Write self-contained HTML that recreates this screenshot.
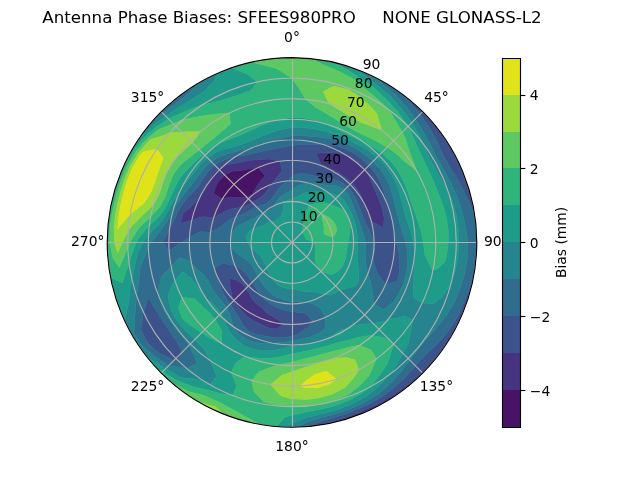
<!DOCTYPE html>
<html lang="en"><head><meta charset="utf-8"><title>Antenna Phase Biases</title>
<style>html,body{margin:0;padding:0;background:#fff;overflow:hidden}svg{display:block}text{font-family:"DejaVu Sans","Liberation Sans",sans-serif;white-space:pre}</style></head>
<body>
<svg width="640" height="480" viewBox="0 0 460.8 345.6" version="1.1">
 
 <defs>
  <style type="text/css">*{stroke-linejoin: round; stroke-linecap: butt}</style>
 </defs>
 <g id="figure_1">
  <g id="patch_1">
   <path d="M 0 345.6 
L 460.8 345.6 
L 460.8 0 
L 0 0 
z
" style="fill: #ffffff"/>
  </g>
  <g id="axes_1">
   <g id="patch_2">
    <path d="M 343.296 174.528 
C 343.296 157.055246 339.854248 139.752393 333.167715 123.609673 
C 326.481182 107.466954 316.679903 92.798303 304.3248 80.4432 
C 291.969697 68.088097 277.301046 58.286818 261.158327 51.600285 
C 245.015607 44.913752 227.712754 41.472 210.24 41.472 
C 192.767246 41.472 175.464393 44.913752 159.321673 51.600285 
C 143.178954 58.286818 128.510303 68.088097 116.1552 80.4432 
C 103.800097 92.798303 93.998818 107.466954 87.312285 123.609673 
C 80.625752 139.752393 77.184 157.055246 77.184 174.528 
C 77.184 192.000754 80.625752 209.303607 87.312285 225.446327 
C 93.998818 241.589046 103.800097 256.257697 116.1552 268.6128 
C 128.510303 280.967903 143.178954 290.769182 159.321673 297.455715 
C 175.464393 304.142248 192.767246 307.584 210.24 307.584 
C 227.712754 307.584 245.015607 304.142248 261.158327 297.455715 
C 277.301046 290.769182 291.969697 280.967903 304.3248 268.6128 
C 316.679903 256.257697 326.481182 241.589046 333.167715 225.446327 
C 339.854248 209.303607 343.296 192.000754 343.296 174.528 
M 210.24 174.528 
C 210.24 174.528 210.24 174.528 210.24 174.528 
C 210.24 174.528 210.24 174.528 210.24 174.528 
C 210.24 174.528 210.24 174.528 210.24 174.528 
C 210.24 174.528 210.24 174.528 210.24 174.528 
C 210.24 174.528 210.24 174.528 210.24 174.528 
C 210.24 174.528 210.24 174.528 210.24 174.528 
C 210.24 174.528 210.24 174.528 210.24 174.528 
C 210.24 174.528 210.24 174.528 210.24 174.528 
C 210.24 174.528 210.24 174.528 210.24 174.528 
C 210.24 174.528 210.24 174.528 210.24 174.528 
C 210.24 174.528 210.24 174.528 210.24 174.528 
C 210.24 174.528 210.24 174.528 210.24 174.528 
C 210.24 174.528 210.24 174.528 210.24 174.528 
C 210.24 174.528 210.24 174.528 210.24 174.528 
C 210.24 174.528 210.24 174.528 210.24 174.528 
C 210.24 174.528 210.24 174.528 210.24 174.528 
z
" style="fill: #ffffff"/>
   </g>
   <g id="QuadContourSet_1">
    <path d="M 171.932487 142.38418 
L 177.833013 142.121013 
L 181.492625 140.268213 
L 183.6724 136.585535 
L 185.952 132.45995 
L 188.887504 128.737424 
L 190.883972 126.540651 
L 185.934578 120.617769 
L 185.129751 120.678897 
L 179.664 121.568815 
L 173.941781 122.688771 
L 167.963137 123.16029 
L 167.295258 123.34845 
L 161.62952 125.91752 
L 157.467202 130.246365 
L 154.841503 135.737555 
L 153.81876 139.277206 
L 160.038823 143.272468 
L 164.136671 142.246102 
L 169.626733 142.465497 
z
" clip-path="url(#pded382b021)" style="fill: #471365; stroke: #471365; stroke-width: 0.5"/>
    <path d="M 174.15914 149.26391 
L 178.194602 147.638719 
L 181.491867 145.779867 
L 184.56948 143.935065 
L 187.566732 142.147217 
L 190.2816 139.959037 
L 192.600452 136.699868 
L 195.132578 133.020699 
L 195.333916 132.755897 
L 198.123128 129.307217 
L 201.536564 125.168364 
L 203.106818 123.278032 
L 201.702262 116.011562 
L 199.828625 115.482159 
L 194.169201 114.550961 
L 188.418022 114.572609 
L 182.542256 115.129995 
L 179.794356 115.375337 
L 176.514 116.112854 
L 170.161984 117.290662 
L 163.215547 118.486439 
L 161.326487 119.10567 
L 157.186627 121.474627 
L 152.645359 126.200358 
L 149.205633 131.791276 
L 146.223402 137.568 
L 142.739425 143.051965 
L 138.338751 148.358086 
L 131.698639 153.482906 
L 131.698639 153.482906 
L 130.058069 160.389762 
L 130.092086 160.818394 
L 130.888279 160.536151 
L 138.036897 158.68886 
L 143.598845 156.671556 
L 146.350185 155.978976 
L 153.769356 156.974285 
L 156.844638 155.093678 
L 162.161802 152.108768 
L 163.931712 151.441553 
L 167.829004 150.042 
L 173.692014 149.401428 
z
M 169.626733 142.465497 
L 164.136671 142.246102 
L 160.038823 143.272468 
L 153.81876 139.277206 
L 154.841503 135.737555 
L 157.467202 130.246365 
L 161.62952 125.91752 
L 167.295258 123.34845 
L 167.963137 123.16029 
L 173.941781 122.688771 
L 179.664 121.568815 
L 185.129751 120.678897 
L 185.934578 120.617769 
L 190.883972 126.540651 
L 188.887504 128.737424 
L 185.952 132.45995 
L 183.6724 136.585535 
L 181.492625 140.268213 
L 177.833013 142.121013 
L 171.932487 142.38418 
z
M 188.372041 221.42399 
L 184.704 218.757649 
L 181.755589 215.207954 
L 179.400524 211.281056 
L 177.136089 207.631911 
L 174.533327 204.489456 
L 171.009695 201.997355 
L 165.428382 200.4 
L 165.428382 200.4 
L 165.428382 200.4 
L 165.622999 205.76916 
L 166.612816 211.135554 
L 167.321494 215.210531 
L 168.175632 216.592368 
L 171.414549 220.798371 
L 175.017856 224.830435 
L 178.992 228.651124 
L 183.686049 231.473131 
L 188.609734 233.956667 
L 193.738733 236.111567 
L 199.231482 236.960407 
L 204.692806 233.403251 
L 200.375911 230.470026 
L 195.99736 227.682254 
L 191.820163 225.136086 
L 188.372041 221.42399 
z
M 261.453278 144.96 
L 263.44806 149.716674 
L 265.294892 154.489658 
L 267.36099 159.222477 
L 267.36099 159.222477 
L 274.385439 163.217428 
L 275.962279 164.205361 
L 276.269338 162.885246 
L 276.541149 156.762661 
L 275.388048 150.81605 
L 273.440393 145.057173 
L 271.055768 139.416 
L 268.549622 133.699163 
L 266.071413 127.679882 
L 264.700012 124.545268 
L 262.799718 121.968282 
L 258.259404 117.300703 
L 253.022437 113.428347 
L 247.2 110.511402 
L 247.2 110.511402 
L 240.341545 109.975028 
L 233.730427 109.988581 
L 227.458713 110.266887 
L 227.458713 110.266887 
L 227.458713 110.266887 
L 230.848735 117.905966 
L 235.523585 120.307178 
L 240.218667 122.603426 
L 244.793097 125.181063 
L 249.168901 128.134343 
L 253.217007 131.550993 
L 256.721614 135.525295 
L 259.519752 140.021946 
L 261.453278 144.96 
z
M 113.3662 242.359765 
L 113.34531 242.348978 
L 113.350571 242.370709 
L 113.584523 242.689461 
z
M 304.3248 268.6128 
L 295.13885 275.706509 
L 285.786713 282.419887 
L 276.0288 288.477544 
L 265.825655 293.731822 
L 255.250955 298.194582 
L 244.378491 301.934582 
L 233.295569 305.28263 
L 232.078853 305.779528 
L 233.344932 305.56258 
L 244.677427 303.050227 
L 255.747832 299.559741 
L 266.471895 295.117689 
L 276.768 289.757876 
L 286.557786 283.521094 
L 295.766748 276.454809 
L 304.3248 268.6128 
L 304.3248 268.6128 
z
" clip-path="url(#pded382b021)" style="fill: #463480; stroke: #463480; stroke-width: 0.5"/>
    <path d="M 184.580509 148.868509 
L 187.86022 147.856817 
L 190.844539 146.828411 
L 193.344 145.26327 
L 195.48979 142.896072 
L 197.712863 140.109974 
L 198.160603 139.597644 
L 200.100091 136.685344 
L 203.017081 133.564791 
L 206.383145 130.443945 
L 206.517249 130.332514 
L 210.24 127.008 
L 210.24 122.784 
L 210.24 115.392 
L 210.24 108 
L 210.24 104.714667 
L 204.232516 105.862149 
L 198.341267 107.046933 
L 192.474661 108.226851 
L 186.564723 109.480712 
L 180.53646 110.828553 
L 174.204 112.111817 
L 169.793472 112.655189 
L 167.355294 113.282293 
L 160.671632 115.454719 
L 154.57316 118.86116 
L 149.690067 123.720573 
L 145.765908 129.382755 
L 141.955629 135.104 
L 136.749015 140.258591 
L 136.378971 140.52521 
L 131.976126 146.042279 
L 128.128577 152.526311 
L 124.790839 159.461007 
L 122.100945 164.532668 
L 121.030768 166.723203 
L 117.1008 174.528 
L 121.756999 180.78564 
L 128.934289 175.539294 
L 130.776 174.528 
L 136.406079 170.961695 
L 140.903004 168.461799 
L 144.157685 166.84019 
L 151.559071 167.205771 
L 155.975915 164.959778 
L 159.924337 162.454243 
L 161.15165 161.374816 
L 165.390108 158.203974 
L 170.015444 155.844184 
L 170.098258 155.809598 
L 175.030871 154.2 
L 178.747142 152.476463 
L 181.620477 150.513369 
L 182.929772 149.624325 
z
M 173.692014 149.401428 
L 167.829004 150.042 
L 163.931712 151.441553 
L 162.161802 152.108768 
L 156.844638 155.093678 
L 153.769356 156.974285 
L 146.350185 155.978976 
L 143.598845 156.671556 
L 138.036897 158.68886 
L 130.888279 160.536151 
L 130.092086 160.818394 
L 130.058069 160.389762 
L 131.698639 153.482906 
L 131.698639 153.482906 
L 138.338751 148.358086 
L 142.739425 143.051965 
L 146.223402 137.568 
L 149.205633 131.791276 
L 152.645359 126.200358 
L 157.186627 121.474627 
L 161.326487 119.10567 
L 163.215547 118.486439 
L 170.161984 117.290662 
L 176.514 116.112854 
L 179.794356 115.375337 
L 182.542256 115.129995 
L 188.418022 114.572609 
L 194.169201 114.550961 
L 199.828625 115.482159 
L 201.702262 116.011562 
L 203.106818 123.278032 
L 201.536564 125.168364 
L 198.123128 129.307217 
L 195.333916 132.755897 
L 195.132578 133.020699 
L 192.600452 136.699868 
L 190.2816 139.959037 
L 187.566732 142.147217 
L 184.56948 143.935065 
L 181.491867 145.779867 
L 178.194602 147.638719 
L 174.15914 149.26391 
z
M 188.064 212.937959 
L 185.712323 209.557153 
L 183.559237 206.324895 
L 181.491867 203.276133 
L 179.484522 200.334911 
L 177.43408 197.498953 
L 175.030871 194.856 
L 171.582679 192.554205 
L 169.258887 191.488198 
L 165.446211 190.831606 
L 160.645069 189.285519 
L 154.055806 192.978011 
L 154.233763 194.912603 
L 155.93906 199.848944 
L 157.959778 204.712 
L 160.02297 209.690343 
L 162.621783 214.484428 
L 165.686616 219.081384 
L 168.91987 223.771414 
L 172.131341 228.952806 
L 172.279641 229.163025 
L 175.333333 234.98812 
L 180.171556 239.009986 
L 185.969156 241.211595 
L 192.064691 242.359175 
L 198.139714 243.152134 
L 204.237849 243.132902 
L 210.24 242.112 
L 214.255023 240.934734 
L 215.923021 239.485226 
L 221.114835 236.202253 
L 225.545523 231.64899 
L 225.545523 231.64899 
L 225.545523 231.64899 
L 219.774164 225.38605 
L 219.18315 225.247126 
L 214.635417 224.767843 
L 210.24 224.256 
L 205.957624 223.475782 
L 201.830381 222.221317 
L 197.891226 220.614253 
L 194.227985 218.52065 
L 190.975369 215.841134 
L 188.064 212.937959 
z
M 188.372041 221.42399 
L 191.820163 225.136086 
L 195.99736 227.682254 
L 200.375911 230.470026 
L 204.692806 233.403251 
L 199.231482 236.960407 
L 193.738733 236.111567 
L 188.609734 233.956667 
L 183.686049 231.473131 
L 178.992 228.651124 
L 175.017856 224.830435 
L 171.414549 220.798371 
L 168.175632 216.592368 
L 167.321494 215.210531 
L 166.612816 211.135554 
L 165.622999 205.76916 
L 165.428382 200.4 
L 165.428382 200.4 
L 165.428382 200.4 
L 171.009695 201.997355 
L 174.533327 204.489456 
L 177.136089 207.631911 
L 179.400524 211.281056 
L 181.755589 215.207954 
L 184.704 218.757649 
L 188.372041 221.42399 
z
M 214.562803 125.118131 
L 218.977973 124.97249 
L 223.313468 125.737155 
L 227.595556 126.844001 
L 231.936781 127.999102 
L 233.319158 128.216079 
L 236.784 128.552443 
L 241.816168 129.432558 
L 246.336074 131.510375 
L 250.237403 134.530597 
L 253.455241 138.266107 
L 255.98332 142.498182 
L 257.896801 147.013333 
L 259.571417 151.524383 
L 261.297441 155.944611 
L 263.160917 160.347883 
L 265.283948 164.822267 
L 267.597919 169.509832 
L 269.376 174.528 
L 269.376 174.528 
L 269.83126 179.74156 
L 268.956066 184.881227 
L 269.401025 190.380149 
L 271.979022 196.999166 
L 272.460101 198.078664 
L 277.565868 205.046747 
L 285.949626 202.08405 
L 287.761343 195.299781 
L 287.925058 188.225972 
L 286.978949 181.241788 
L 285.504 174.528 
L 284.192166 168.058024 
L 283.182298 162.545197 
L 282.979876 161.701997 
L 281.641237 155.396096 
L 281.641237 155.396096 
L 280.022625 149.129201 
L 278.178166 142.847913 
L 276.085644 136.512 
L 273.458338 130.262043 
L 269.999211 124.384068 
L 265.70357 119.06443 
L 260.701034 114.390882 
L 255.118758 110.434491 
L 249.048 107.310572 
L 242.575369 105.184578 
L 235.892931 104.047152 
L 231.168079 103.63243 
L 229.197977 103.775865 
L 222.710549 103.804001 
L 216.40982 104.006629 
L 210.24 104.714667 
L 210.24 108 
L 210.24 115.392 
L 210.24 122.784 
L 210.24 127.008 
z
M 261.453278 144.96 
L 259.519752 140.021946 
L 256.721614 135.525295 
L 253.217007 131.550993 
L 249.168901 128.134343 
L 244.793097 125.181063 
L 240.218667 122.603426 
L 235.523585 120.307178 
L 230.848735 117.905966 
L 227.458713 110.266887 
L 227.458713 110.266887 
L 227.458713 110.266887 
L 233.730427 109.988581 
L 240.341545 109.975028 
L 247.2 110.511402 
L 247.2 110.511402 
L 253.022437 113.428347 
L 258.259404 117.300703 
L 262.799718 121.968282 
L 264.700012 124.545268 
L 266.071413 127.679882 
L 268.549622 133.699163 
L 271.055768 139.416 
L 273.440393 145.057173 
L 275.388048 150.81605 
L 276.541149 156.762661 
L 276.269338 162.885246 
L 275.962279 164.205361 
L 274.385439 163.217428 
L 267.36099 159.222477 
L 267.36099 159.222477 
L 265.294892 154.489658 
L 263.44806 149.716674 
L 261.453278 144.96 
z
M 126.530243 244.768826 
L 121.102412 236.942811 
L 115.815518 229.044 
L 110.86964 220.86516 
L 106.544859 213.792389 
L 103.685198 224.21532 
L 103.212199 224.860054 
L 101.411784 237.36 
L 101.411784 237.36 
L 106.388092 247.245889 
L 110.993731 251.609898 
L 114.953478 254.482885 
L 125.402851 259.365149 
L 128.327559 259.842817 
L 130.529267 254.238733 
L 130.195504 251.256437 
z
M 113.584523 242.689461 
L 113.350571 242.370709 
L 113.34531 242.348978 
L 113.3662 242.359765 
z
M 319.068216 111.696 
L 319.068216 111.696 
L 324.521663 121.237585 
L 330.330533 130.818621 
L 335.588838 140.94088 
L 340.278658 151.598676 
L 342.056436 156.408222 
L 341.27458 151.423068 
L 338.762227 140.090573 
L 335.271741 129.020168 
L 330.829689 118.296105 
L 325.469876 108 
L 319.233094 98.210214 
L 312.166809 89.001252 
L 304.3248 80.4432 
L 295.766748 72.601191 
L 287.383257 66.11759 
L 295.010122 73.502903 
L 302.582489 82.185511 
L 309.088825 91.583988 
L 314.392353 101.599737 
L 319.068216 111.696 
z
M 299.097867 263.385867 
L 299.097867 263.385867 
L 291.756207 271.675232 
L 283.615338 279.318843 
L 274.5504 285.91688 
L 264.756323 291.438633 
L 254.452327 296.000369 
L 243.780619 299.703294 
L 232.862807 302.828314 
L 221.813482 306.813508 
L 221.229981 307.129355 
L 221.836595 307.077682 
L 232.078853 305.779528 
L 233.295569 305.28263 
L 244.378491 301.934582 
L 255.250955 298.194582 
L 265.825655 293.731822 
L 276.0288 288.477544 
L 285.786713 282.419887 
L 295.13885 275.706509 
L 304.3248 268.6128 
L 304.3248 268.6128 
L 312.166809 260.054748 
L 319.233094 250.845786 
L 325.469876 241.056 
L 330.829689 230.759895 
L 335.271741 220.035832 
L 338.762227 208.965427 
L 341.099989 198.602104 
L 337.572206 208.646562 
L 333.350459 219.336543 
L 328.367405 229.611714 
L 322.269046 239.208 
L 314.839721 247.769513 
L 306.726562 255.489838 
L 299.097867 263.385867 
z
" clip-path="url(#pded382b021)" style="fill: #3b528b; stroke: #3b528b; stroke-width: 0.5"/>
    <path d="M 189.332267 153.620267 
L 191.99588 152.785504 
L 194.312221 151.780775 
L 196.1952 150.201693 
L 197.180783 148.000213 
L 197.608682 147.440051 
L 199.38827 144.713117 
L 201.56687 142.159439 
L 204.180678 140.163876 
L 207.093066 138.558383 
L 208.975594 137.589634 
L 210.24 136.644 
L 210.24 130.176 
L 210.24 127.008 
L 206.517249 130.332514 
L 206.383145 130.443945 
L 203.017081 133.564791 
L 200.100091 136.685344 
L 198.160603 139.597644 
L 197.712863 140.109974 
L 195.48979 142.896072 
L 193.344 145.26327 
L 190.844539 146.828411 
L 187.86022 147.856817 
L 184.580509 148.868509 
L 182.929772 149.624325 
L 181.620477 150.513369 
L 178.747142 152.476463 
L 175.030871 154.2 
L 170.098258 155.809598 
L 170.015444 155.844184 
L 165.390108 158.203974 
L 161.15165 161.374816 
L 159.924337 162.454243 
L 155.975915 164.959778 
L 151.559071 167.205771 
L 144.157685 166.84019 
L 140.903004 168.461799 
L 136.406079 170.961695 
L 130.776 174.528 
L 128.934289 175.539294 
L 121.756999 180.78564 
L 117.1008 174.528 
L 121.030768 166.723203 
L 122.100945 164.532668 
L 124.790839 159.461007 
L 128.128577 152.526311 
L 131.976126 146.042279 
L 136.378971 140.52521 
L 136.749015 140.258591 
L 141.955629 135.104 
L 145.765908 129.382755 
L 149.690067 123.720573 
L 154.57316 118.86116 
L 160.671632 115.454719 
L 167.355294 113.282293 
L 169.793472 112.655189 
L 174.204 112.111817 
L 180.53646 110.828553 
L 186.564723 109.480712 
L 192.474661 108.226851 
L 198.341267 107.046933 
L 204.232516 105.862149 
L 210.24 104.714667 
L 210.24 100.608 
L 210.24 97.764923 
L 203.630062 98.976066 
L 197.266615 100.952275 
L 191.108096 103.126763 
L 184.953286 105.053325 
L 178.653483 106.790495 
L 172.112842 108.489825 
L 165.245777 110.26959 
L 158.337553 112.673072 
L 156.138349 113.826659 
L 151.959693 116.247693 
L 146.777323 121.276492 
L 142.38858 127.017925 
L 138.043504 132.845333 
L 133.253146 138.62844 
L 128.717487 144.856232 
L 124.558516 151.569715 
L 124.558516 151.569715 
L 120.685222 158.737076 
L 115.441211 166.234181 
L 114.394505 167.593857 
L 108.768 174.528 
L 106.830961 178.569891 
L 104.574985 183.772491 
L 100.904383 192.969723 
L 100.758073 193.832618 
L 99.842703 204.108867 
L 98.382318 212.948372 
L 98.100623 215.343395 
L 97.126592 227.273649 
L 96.881678 228.762046 
L 96.48743 240.203077 
L 102.975626 249.635323 
L 111.917885 257.03005 
L 121.382133 263.385867 
L 121.382133 263.385867 
L 134.14202 265.218042 
L 134.353357 265.2445 
L 141.846097 261.801412 
L 140.476557 257.668834 
L 136.112582 248.655418 
L 130.462208 241.469516 
L 124.825868 234.335619 
L 119.816556 226.734 
L 115.935614 218.502857 
L 114.844729 214.646679 
L 114.090613 209.523515 
L 115.990367 199.782113 
L 117.089905 198.13946 
L 123.255729 191.910067 
L 125.715787 189.431899 
L 129.666886 185.464847 
L 135.602591 187.688589 
L 137.880983 189.638892 
L 140.878798 193.113278 
L 146.432275 197.752113 
L 149.376261 201.390242 
L 150.205649 202.522478 
L 152.625062 207.792 
L 152.625062 207.792 
L 152.625062 207.792 
L 155.954514 212.539107 
L 159.626321 216.997919 
L 163.1976 221.5704 
L 163.1976 221.5704 
L 165.782099 227.510863 
L 168.038689 234.797718 
L 168.305279 235.402014 
L 172.125 240.545117 
L 177.633311 244.453271 
L 183.946586 246.768562 
L 190.698127 247.459264 
L 195.902161 247.044155 
L 197.466597 246.969567 
L 203.944287 246.488325 
L 210.24 245.632 
L 216.356444 244.439273 
L 222.292223 242.879554 
L 228.005339 240.829149 
L 233.139969 237.445149 
L 233.917722 236.699861 
L 234.366267 228.518645 
L 230.692027 222.058581 
L 226.539655 219.310934 
L 221.719142 217.368742 
L 221.719142 217.368742 
L 217.73204 217.01747 
L 213.970677 217.169837 
L 210.24 217.237333 
L 206.579469 216.368058 
L 203.048124 215.315156 
L 199.63049 214.123231 
L 196.449748 212.416406 
L 193.768031 209.852252 
L 191.424 207.118268 
L 189.792011 205.316331 
L 189.210968 204.560571 
L 187.259738 201.914809 
L 185.673413 199.094587 
L 184.305627 196.289523 
L 182.952642 193.634814 
L 181.432531 191.16 
L 179.540662 188.843336 
L 176.970293 186.637183 
L 174.859997 185.218978 
L 173.349361 184.412817 
L 169.730723 181.670879 
L 167.130288 178.299611 
L 165.888 174.528 
L 166.100421 170.666287 
L 167.549919 167.000587 
L 170.076804 163.766304 
L 173.751656 161.247329 
L 176.164104 160.214549 
L 177.938277 159.465459 
L 181.432531 157.896 
L 184.237795 156.32106 
L 186.784727 154.846689 
L 189.332267 153.620267 
z
M 188.064 212.937959 
L 190.975369 215.841134 
L 194.227985 218.52065 
L 197.891226 220.614253 
L 201.830381 222.221317 
L 205.957624 223.475782 
L 210.24 224.256 
L 214.635417 224.767843 
L 219.18315 225.247126 
L 219.774164 225.38605 
L 225.545523 231.64899 
L 225.545523 231.64899 
L 225.545523 231.64899 
L 221.114835 236.202253 
L 215.923021 239.485226 
L 214.255023 240.934734 
L 210.24 242.112 
L 204.237849 243.132902 
L 198.139714 243.152134 
L 192.064691 242.359175 
L 185.969156 241.211595 
L 180.171556 239.009986 
L 175.333333 234.98812 
L 172.279641 229.163025 
L 172.131341 228.952806 
L 168.91987 223.771414 
L 165.686616 219.081384 
L 162.621783 214.484428 
L 160.02297 209.690343 
L 157.959778 204.712 
L 155.93906 199.848944 
L 154.233763 194.912603 
L 154.055806 192.978011 
L 160.645069 189.285519 
L 165.446211 190.831606 
L 169.258887 191.488198 
L 171.582679 192.554205 
L 175.030871 194.856 
L 177.43408 197.498953 
L 179.484522 200.334911 
L 181.491867 203.276133 
L 183.559237 206.324895 
L 185.712323 209.557153 
L 188.064 212.937959 
z
M 130.195504 251.256437 
L 130.529267 254.238733 
L 128.327559 259.842817 
L 125.402851 259.365149 
L 114.953478 254.482885 
L 110.993731 251.609898 
L 106.388092 247.245889 
L 101.411784 237.36 
L 101.411784 237.36 
L 103.212199 224.860054 
L 103.685198 224.21532 
L 106.544859 213.792389 
L 110.86964 220.86516 
L 115.815518 229.044 
L 121.102412 236.942811 
L 126.530243 244.768826 
z
M 213.767606 134.207276 
L 217.643891 132.538447 
L 221.719142 131.687258 
L 221.719142 131.687258 
L 225.813849 131.739202 
L 229.918605 132.327095 
L 234.1408 133.1306 
L 238.858626 133.656366 
L 242.125029 133.775252 
L 243.973987 134.3254 
L 247.964823 136.803177 
L 250.95044 140.367885 
L 252.995448 144.590313 
L 253.591644 146.277752 
L 254.469649 148.992 
L 256.106743 153.139986 
L 257.731174 157.242626 
L 259.247213 161.396557 
L 260.654536 165.638557 
L 261.688729 169.008051 
L 262.015318 169.998247 
L 263.216 174.528 
L 263.601193 179.196499 
L 263.416635 183.904475 
L 263.280919 188.740271 
L 263.936296 194.071853 
L 264.77654 197.393527 
L 266.154819 200.601508 
L 267.854938 207.792 
L 267.854938 207.792 
L 268.953719 215.639789 
L 269.499163 218.715306 
L 275.616322 222.876505 
L 277.830993 221.855723 
L 283.61287 216.889846 
L 287.692409 210.644651 
L 290.614743 203.782014 
L 292.561426 196.58596 
L 293.540835 189.216185 
L 293.430634 181.806237 
L 292.120615 174.528 
L 291.524455 172.411692 
L 289.899832 167.558668 
L 287.88643 160.836839 
L 286.103814 154.200352 
L 284.461242 147.513677 
L 282.763984 140.709511 
L 280.658258 133.872 
L 280.658258 133.872 
L 277.541562 127.402939 
L 273.47584 121.46683 
L 268.607422 116.160578 
L 263.11439 111.514756 
L 257.180899 107.489448 
L 250.896 104.109742 
L 250.896 104.109742 
L 244.249673 101.594021 
L 237.402157 99.900587 
L 230.519818 98.842689 
L 223.725989 98.045155 
L 216.973288 97.566167 
L 210.24 97.764923 
L 210.24 100.608 
L 210.24 104.714667 
L 216.40982 104.006629 
L 222.710549 103.804001 
L 229.197977 103.775865 
L 231.168079 103.63243 
L 235.892931 104.047152 
L 242.575369 105.184578 
L 249.048 107.310572 
L 255.118758 110.434491 
L 260.701034 114.390882 
L 265.70357 119.06443 
L 269.999211 124.384068 
L 273.458338 130.262043 
L 276.085644 136.512 
L 278.178166 142.847913 
L 280.022625 149.129201 
L 281.641237 155.396096 
L 281.641237 155.396096 
L 282.979876 161.701997 
L 283.182298 162.545197 
L 284.192166 168.058024 
L 285.504 174.528 
L 286.978949 181.241788 
L 287.925058 188.225972 
L 287.761343 195.299781 
L 285.949626 202.08405 
L 277.565868 205.046747 
L 272.460101 198.078664 
L 271.979022 196.999166 
L 269.401025 190.380149 
L 268.956066 184.881227 
L 269.83126 179.74156 
L 269.376 174.528 
L 269.376 174.528 
L 267.597919 169.509832 
L 265.283948 164.822267 
L 263.160917 160.347883 
L 261.297441 155.944611 
L 259.571417 151.524383 
L 257.896801 147.013333 
L 255.98332 142.498182 
L 253.455241 138.266107 
L 250.237403 134.530597 
L 246.336074 131.510375 
L 241.816168 129.432558 
L 236.784 128.552443 
L 233.319158 128.216079 
L 231.936781 127.999102 
L 227.595556 126.844001 
L 223.313468 125.737155 
L 218.977973 124.97249 
L 214.562803 125.118131 
L 210.24 127.008 
L 210.24 130.176 
L 210.24 136.644 
z
M 299.097867 85.670133 
L 305.028942 94.990634 
L 310.082231 104.617717 
L 314.800443 114.16 
L 319.96576 123.362038 
L 325.11651 132.71637 
L 329.522067 142.566467 
L 332.880337 152.9032 
L 335.248406 163.591182 
L 335.635533 166.318174 
L 336.828 174.528 
L 336.52903 185.576858 
L 334.628697 196.461083 
L 331.622103 207.052236 
L 331.622103 207.052236 
L 327.375609 217.161875 
L 321.782752 226.541239 
L 315.067179 235.05 
L 308.116379 243.061778 
L 301.517661 251.119052 
L 295.077149 259.365149 
L 288.484561 267.776237 
L 281.264167 275.961023 
L 273.072 283.356216 
L 273.072 283.356216 
L 263.686992 289.145444 
L 253.653699 293.806157 
L 243.182747 297.472005 
L 232.430045 300.373997 
L 221.535024 303.630714 
L 213.907041 307.533458 
L 221.229981 307.129355 
L 221.813482 306.813508 
L 232.862807 302.828314 
L 243.780619 299.703294 
L 254.452327 296.000369 
L 264.756323 291.438633 
L 274.5504 285.91688 
L 283.615338 279.318843 
L 291.756207 271.675232 
L 299.097867 263.385867 
L 299.097867 263.385867 
L 299.097867 263.385867 
L 306.726562 255.489838 
L 314.839721 247.769513 
L 322.269046 239.208 
L 328.367405 229.611714 
L 333.350459 219.336543 
L 337.572206 208.646562 
L 341.099989 198.602104 
L 341.27458 197.632932 
L 342.789682 186.124595 
L 343.296 174.528 
L 342.789682 162.931405 
L 342.056436 156.408222 
L 340.278658 151.598676 
L 335.588838 140.94088 
L 330.330533 130.818621 
L 324.521663 121.237585 
L 319.068216 111.696 
L 319.068216 111.696 
L 319.068216 111.696 
L 314.392353 101.599737 
L 309.088825 91.583988 
L 302.582489 82.185511 
L 295.010122 73.502903 
L 287.383257 66.11759 
L 286.557786 65.534906 
L 276.768 59.298124 
L 268.778169 55.040838 
L 275.964522 60.689789 
L 284.617569 68.305823 
L 292.43047 76.577213 
L 299.097867 85.670133 
z
M 117.200587 81.488587 
L 126.40543 74.617851 
L 135.413099 67.66411 
L 143.712 59.298124 
L 143.712 59.298124 
L 143.712 59.298124 
L 133.922214 65.534906 
L 124.713252 72.601191 
L 116.1552 80.4432 
L 109.618035 87.469862 
z
" clip-path="url(#pded382b021)" style="fill: #2f6c8e; stroke: #2f6c8e; stroke-width: 0.5"/>
    <path d="M 193.425576 160.419023 
L 195.604587 159.892587 
L 197.415407 159.244245 
L 198.976596 158.442192 
L 200.384 157.456907 
L 201.687127 156.186304 
L 202.900955 154.36414 
L 203.250741 153.482211 
L 203.862699 150.727588 
L 204.676043 145.488217 
L 205.069358 145.203831 
L 207.572572 144.039159 
L 210.24 143.112 
L 210.24 137.568 
L 210.24 136.644 
L 208.975594 137.589634 
L 207.093066 138.558383 
L 204.180678 140.163876 
L 201.56687 142.159439 
L 199.38827 144.713117 
L 197.608682 147.440051 
L 197.180783 148.000213 
L 196.1952 150.201693 
L 194.312221 151.780775 
L 191.99588 152.785504 
L 189.332267 153.620267 
L 189.332267 153.620267 
L 186.784727 154.846689 
L 184.237795 156.32106 
L 181.432531 157.896 
L 177.938277 159.465459 
L 176.164104 160.214549 
L 173.751656 161.247329 
L 170.076804 163.766304 
L 167.549919 167.000587 
L 166.100421 170.666287 
L 165.888 174.528 
L 167.130288 178.299611 
L 169.730723 181.670879 
L 173.349361 184.412817 
L 174.859997 185.218978 
L 176.970293 186.637183 
L 179.540662 188.843336 
L 181.432531 191.16 
L 182.952642 193.634814 
L 184.305627 196.289523 
L 185.673413 199.094587 
L 187.259738 201.914809 
L 189.210968 204.560571 
L 189.792011 205.316331 
L 191.424 207.118268 
L 193.768031 209.852252 
L 196.449748 212.416406 
L 199.63049 214.123231 
L 203.048124 215.315156 
L 206.579469 216.368058 
L 210.24 217.237333 
L 213.970677 217.169837 
L 217.73204 217.01747 
L 221.719142 217.368742 
L 221.719142 217.368742 
L 226.539655 219.310934 
L 230.692027 222.058581 
L 234.366267 228.518645 
L 233.917722 236.699861 
L 233.139969 237.445149 
L 228.005339 240.829149 
L 222.292223 242.879554 
L 216.356444 244.439273 
L 210.24 245.632 
L 203.944287 246.488325 
L 197.466597 246.969567 
L 195.902161 247.044155 
L 190.698127 247.459264 
L 183.946586 246.768562 
L 177.633311 244.453271 
L 172.125 240.545117 
L 168.305279 235.402014 
L 168.038689 234.797718 
L 165.782099 227.510863 
L 163.1976 221.5704 
L 163.1976 221.5704 
L 159.626321 216.997919 
L 155.954514 212.539107 
L 152.625062 207.792 
L 152.625062 207.792 
L 152.625062 207.792 
L 150.205649 202.522478 
L 149.376261 201.390242 
L 146.432275 197.752113 
L 140.878798 193.113278 
L 137.880983 189.638892 
L 135.602591 187.688589 
L 129.666886 185.464847 
L 125.715787 189.431899 
L 123.255729 191.910067 
L 117.089905 198.13946 
L 115.990367 199.782113 
L 114.090613 209.523515 
L 114.844729 214.646679 
L 115.935614 218.502857 
L 119.816556 226.734 
L 124.825868 234.335619 
L 130.462208 241.469516 
L 136.112582 248.655418 
L 140.476557 257.668834 
L 141.846097 261.801412 
L 134.353357 265.2445 
L 134.14202 265.218042 
L 121.382133 263.385867 
L 121.382133 263.385867 
L 111.917885 257.03005 
L 102.975626 249.635323 
L 96.48743 240.203077 
L 96.881678 228.762046 
L 97.126592 227.273649 
L 98.100623 215.343395 
L 98.382318 212.948372 
L 99.842703 204.108867 
L 100.758073 193.832618 
L 100.904383 192.969723 
L 104.574985 183.772491 
L 106.830961 178.569891 
L 108.768 174.528 
L 114.394505 167.593857 
L 115.441211 166.234181 
L 120.685222 158.737076 
L 124.558516 151.569715 
L 124.558516 151.569715 
L 128.717487 144.856232 
L 133.253146 138.62844 
L 138.043504 132.845333 
L 142.38858 127.017925 
L 146.777323 121.276492 
L 151.959693 116.247693 
L 156.138349 113.826659 
L 158.337553 112.673072 
L 165.245777 110.26959 
L 172.112842 108.489825 
L 178.653483 106.790495 
L 184.953286 105.053325 
L 191.108096 103.126763 
L 197.266615 100.952275 
L 203.630062 98.976066 
L 210.24 97.764923 
L 210.24 93.216 
L 210.24 91.872 
L 203.108817 93.018202 
L 200.258518 93.830966 
L 196.228288 95.06363 
L 189.636411 97.63436 
L 183.238106 100.340906 
L 176.816419 102.850899 
L 170.167579 105.120531 
L 166.094863 106.242949 
L 162.909762 106.933416 
L 155.679126 109.504882 
L 149.346227 113.634227 
L 143.925386 118.883432 
L 139.113083 124.724396 
L 134.487026 130.792 
L 129.853981 137.024832 
L 129.844221 137.038832 
L 125.526302 143.694736 
L 121.702466 150.804439 
L 117.238966 158.129409 
L 115.123137 160.845032 
L 110.035452 165.761238 
L 106.877914 169.424536 
L 103.056 174.528 
L 99.562774 181.230694 
L 98.46678 184.30689 
L 96.301176 194.618489 
L 95.127877 201.684307 
L 93.855984 205.713003 
L 92.684867 217.314569 
L 92.537809 218.546577 
L 89.73246 230.721589 
L 89.725139 230.920087 
L 95.010124 241.056 
L 101.246906 250.845786 
L 105.07895 256.045192 
L 109.331108 259.200614 
L 119.204245 265.563755 
L 129.094622 271.233296 
L 130.923683 271.997805 
L 141.40626 272.832768 
L 151.104 276.954557 
L 151.104 276.954557 
L 156.001385 271.236567 
L 155.416 269.485953 
L 151.626712 259.817206 
L 151.333913 258.65461 
L 146.441356 250.560264 
L 140.279508 244.488492 
L 133.952789 238.54057 
L 128.206756 231.968296 
L 123.629309 224.532706 
L 121.310122 215.996683 
L 121.382678 211.117857 
L 123.472134 206.108921 
L 125.812599 201.738543 
L 131.698639 195.573094 
L 137.937057 200.844119 
L 142.285864 206.215534 
L 145.641433 211.824 
L 147.726416 213.976932 
L 150.37784 216.443936 
L 155.24915 220.670802 
L 159.176882 225.591118 
L 160.56686 229.270539 
L 161.913912 232.120789 
L 165.250661 238.779434 
L 169.815 244.546154 
L 172.694297 246.652625 
L 175.563664 248.891641 
L 182.218974 251.515137 
L 185.78901 252.076633 
L 189.331562 252.559352 
L 196.52024 252.336628 
L 203.551613 250.976613 
L 210.24 249.504 
L 216.729312 248.701175 
L 223.136321 247.666669 
L 229.371904 245.929237 
L 229.371904 245.929237 
L 235.342657 243.496983 
L 240.982843 240.456239 
L 246.4608 237.264266 
L 251.427259 235.910213 
L 252.812356 235.327625 
L 259.739393 233.51908 
L 266.571182 233.166206 
L 268.607422 232.895422 
L 277.622516 231.068645 
L 279.544792 229.892659 
L 287.69874 228.765193 
L 290.48496 227.397533 
L 297.327135 230.435039 
L 296.380874 234.84449 
L 294.375526 245.126089 
L 293.849529 247.355337 
L 290.21208 254.50008 
L 284.935257 263.546341 
L 281.484657 268.933852 
L 278.646077 272.222002 
L 271.018667 279.799739 
L 262.29479 286.159858 
L 252.700751 291.187955 
L 242.51469 294.978783 
L 231.973597 297.785353 
L 227.828534 298.955024 
L 221.256565 300.447919 
L 210.24 304.740923 
L 206.432692 307.529517 
L 210.24 307.584 
L 213.907041 307.533458 
L 221.535024 303.630714 
L 232.430045 300.373997 
L 243.182747 297.472005 
L 253.653699 293.806157 
L 263.686992 289.145444 
L 273.072 283.356216 
L 273.072 283.356216 
L 281.264167 275.961023 
L 288.484561 267.776237 
L 295.077149 259.365149 
L 301.517661 251.119052 
L 308.116379 243.061778 
L 315.067179 235.05 
L 321.782752 226.541239 
L 327.375609 217.161875 
L 331.622103 207.052236 
L 331.622103 207.052236 
L 334.628697 196.461083 
L 336.52903 185.576858 
L 336.828 174.528 
L 335.635533 166.318174 
L 335.248406 163.591182 
L 332.880337 152.9032 
L 329.522067 142.566467 
L 325.11651 132.71637 
L 319.96576 123.362038 
L 314.800443 114.16 
L 310.082231 104.617717 
L 305.028942 94.990634 
L 299.097867 85.670133 
L 299.097867 85.670133 
L 292.43047 76.577213 
L 284.617569 68.305823 
L 275.964522 60.689789 
L 268.778169 55.040838 
L 266.471895 53.938311 
L 255.747832 49.496259 
L 254.359647 48.999693 
L 255.629143 49.822355 
L 265.318176 56.41247 
L 274.357565 63.473119 
L 282.621551 71.156432 
L 284.564563 73.200313 
L 289.968387 79.511408 
L 296.4844 88.2836 
L 301.925232 97.594956 
L 304.857149 103.564198 
L 306.327272 107.246968 
L 310.666038 116.547 
L 315.451671 125.466992 
L 320.69601 134.3253 
L 322.584936 137.556643 
L 325.321994 143.691873 
L 328.30469 153.71001 
L 329.949508 164.054775 
L 330.36 174.528 
L 329.634804 184.973692 
L 327.721242 195.243113 
L 324.481979 205.139046 
L 324.481979 205.139046 
L 318.080192 213.77862 
L 311.843389 218.925363 
L 304.054187 218.216265 
L 297.698755 214.345175 
L 297.58437 206.318751 
L 297.96152 198.03291 
L 298.462616 190.084028 
L 298.486577 183.524739 
L 298.501821 182.249909 
L 297.806769 174.528 
L 295.924733 167.031557 
L 293.447501 159.856273 
L 291.161402 152.845176 
L 289.387946 145.720504 
L 287.503193 138.499581 
L 284.926031 131.408 
L 281.395448 124.704419 
L 276.902583 118.591451 
L 271.511274 113.256726 
L 265.44753 108.734227 
L 259.064248 104.799748 
L 252.502957 101.326412 
L 245.782321 98.307246 
L 238.881623 95.835788 
L 231.83172 93.946604 
L 224.690221 92.576726 
L 217.47726 91.805737 
L 210.24 91.872 
L 210.24 93.216 
L 210.24 97.764923 
L 216.973288 97.566167 
L 223.725989 98.045155 
L 230.519818 98.842689 
L 237.402157 99.900587 
L 244.249673 101.594021 
L 250.896 104.109742 
L 250.896 104.109742 
L 257.180899 107.489448 
L 263.11439 111.514756 
L 268.607422 116.160578 
L 273.47584 121.46683 
L 277.541562 127.402939 
L 280.658258 133.872 
L 280.658258 133.872 
L 282.763984 140.709511 
L 284.461242 147.513677 
L 286.103814 154.200352 
L 287.88643 160.836839 
L 289.899832 167.558668 
L 291.524455 172.411692 
L 292.120615 174.528 
L 293.430634 181.806237 
L 293.540835 189.216185 
L 292.561426 196.58596 
L 290.614743 203.782014 
L 287.692409 210.644651 
L 283.61287 216.889846 
L 277.830993 221.855723 
L 275.616322 222.876505 
L 269.499163 218.715306 
L 268.953719 215.639789 
L 267.854938 207.792 
L 267.854938 207.792 
L 266.154819 200.601508 
L 264.77654 197.393527 
L 263.936296 194.071853 
L 263.280919 188.740271 
L 263.416635 183.904475 
L 263.601193 179.196499 
L 263.216 174.528 
L 262.015318 169.998247 
L 261.688729 169.008051 
L 260.654536 165.638557 
L 259.247213 161.396557 
L 257.731174 157.242626 
L 256.106743 153.139986 
L 254.469649 148.992 
L 253.591644 146.277752 
L 252.995448 144.590313 
L 250.95044 140.367885 
L 247.964823 136.803177 
L 243.973987 134.3254 
L 242.125029 133.775252 
L 238.858626 133.656366 
L 234.1408 133.1306 
L 229.918605 132.327095 
L 225.813849 131.739202 
L 221.719142 131.687258 
L 221.719142 131.687258 
L 217.643891 132.538447 
L 213.767606 134.207276 
L 210.24 136.644 
L 210.24 137.568 
L 210.24 143.112 
L 213.082555 142.037444 
L 216.22247 140.599729 
L 219.805952 138.827381 
L 219.805952 138.827381 
L 223.452226 138.227708 
L 227.219198 138.115992 
L 231.184 138.251928 
L 235.350925 138.665882 
L 236.602812 138.861461 
L 239.554511 139.592327 
L 243.924681 140.843319 
L 247.208308 143.507906 
L 249.560013 146.995831 
L 251.559804 150.672 
L 253.338232 154.430964 
L 254.83617 158.296322 
L 256.001702 162.266189 
L 256.800824 166.31807 
L 257.250649 170.415101 
L 257.435077 174.528 
L 257.47874 178.660854 
L 257.420616 182.847215 
L 257.364816 187.155057 
L 257.789124 191.834466 
L 258.187965 193.981384 
L 258.358898 196.966211 
L 258.252448 202.248 
L 255.487862 206.210894 
L 250.125168 207.491842 
L 249.627498 207.578035 
L 244.73776 209.02576 
L 240.968011 211.148217 
L 236.815833 212.482223 
L 234.163138 211.874798 
L 231.492 211.337544 
L 226.899956 210.255391 
L 223.204222 210.146906 
L 219.805952 210.228619 
L 219.805952 210.228619 
L 216.352224 209.192146 
L 213.197933 208.337327 
L 210.24 207.792 
L 207.343847 207.631182 
L 204.474339 207.22669 
L 201.7673 206.148548 
L 199.404802 204.297462 
L 197.353524 202.163137 
L 195.456 200.134639 
L 195.456 200.134639 
L 193.969471 197.764723 
L 192.88611 195.209561 
L 191.945733 192.822267 
L 190.98914 190.68139 
L 190.092894 188.635156 
L 189.205975 186.672 
L 188.155494 184.826174 
L 186.636167 183.119093 
L 184.535555 181.415485 
L 182.013468 179.505099 
L 180.965926 178.686749 
L 179.736217 177.196735 
L 178.208 174.528 
L 177.45931 171.660061 
L 177.865997 168.81959 
L 179.63947 166.328613 
L 182.416649 164.401129 
L 182.470534 164.37303 
L 186.402608 163.412442 
L 189.205975 162.384 
L 191.394784 161.332438 
L 193.085962 160.474034 
z
M 147.408 65.699784 
L 147.408 65.699784 
L 155.342726 56.800415 
L 155.61144 53.203561 
L 154.008105 53.938311 
L 143.712 59.298124 
L 143.712 59.298124 
L 135.413099 67.66411 
L 126.40543 74.617851 
L 117.200587 81.488587 
L 109.618035 87.469862 
L 108.313191 89.001252 
L 101.246906 98.210214 
L 99.843632 100.254579 
L 101.486523 98.377995 
L 110.006411 90.422032 
L 119.29136 83.57936 
L 128.744052 77.404911 
L 138.142453 71.562032 
L 147.408 65.699784 
z
" clip-path="url(#pded382b021)" style="fill: #25848e; stroke: #25848e; stroke-width: 0.5"/>
    <path d="M 210.24 174.528 
L 210.24 174.528 
L 210.24 174.528 
L 210.24 174.528 
L 210.24 174.528 
L 210.24 174.528 
L 210.24 174.528 
L 210.24 174.528 
L 210.24 174.528 
L 210.24 174.528 
L 210.24 174.528 
L 210.24 174.528 
L 210.24 174.528 
L 210.24 174.528 
L 210.24 174.528 
L 210.24 174.528 
L 210.24 174.528 
L 210.24 174.528 
L 210.24 174.528 
L 210.24 174.528 
L 210.24 174.528 
L 210.24 174.528 
L 210.24 174.528 
L 210.24 174.528 
L 210.24 174.528 
L 210.24 174.528 
L 210.24 174.528 
L 210.24 174.528 
L 210.24 174.528 
L 210.24 174.528 
L 210.24 174.528 
L 210.24 174.528 
L 210.24 174.528 
L 210.24 174.528 
L 210.24 174.528 
L 210.24 174.528 
L 210.24 174.528 
L 210.24 174.528 
L 210.24 174.528 
L 210.24 174.528 
L 210.24 174.528 
L 210.24 174.528 
L 210.24 174.528 
L 210.24 174.528 
L 210.24 174.528 
L 210.24 174.528 
L 210.24 174.528 
L 210.24 174.528 
L 210.24 174.528 
L 210.24 174.528 
L 210.24 174.528 
L 210.24 174.528 
L 210.24 174.528 
L 210.24 174.528 
L 210.24 174.528 
L 210.24 174.528 
L 210.24 174.528 
L 210.24 174.528 
L 210.24 174.528 
L 210.24 174.528 
L 210.24 174.528 
L 210.24 174.528 
L 210.24 174.528 
L 210.24 174.528 
L 210.24 174.528 
L 210.24 174.528 
L 210.24 174.528 
L 210.24 174.528 
L 210.24 174.528 
L 210.24 174.528 
L 210.24 174.528 
L 210.24 174.528 
L 210.24 167.136 
L 210.24 159.744 
L 210.24 152.352 
L 210.24 144.96 
L 210.24 143.112 
L 207.572572 144.039159 
L 205.069358 145.203831 
L 204.676043 145.488217 
L 203.862699 150.727588 
L 203.250741 153.482211 
L 202.900955 154.36414 
L 201.687127 156.186304 
L 200.384 157.456907 
L 198.976596 158.442192 
L 197.415407 159.244245 
L 195.604587 159.892587 
L 193.425576 160.419023 
L 193.085962 160.474034 
L 191.394784 161.332438 
L 189.205975 162.384 
L 186.402608 163.412442 
L 182.470534 164.37303 
L 182.416649 164.401129 
L 179.63947 166.328613 
L 177.865997 168.81959 
L 177.45931 171.660061 
L 178.208 174.528 
L 179.736217 177.196735 
L 180.965926 178.686749 
L 182.013468 179.505099 
L 184.535555 181.415485 
L 186.636167 183.119093 
L 188.155494 184.826174 
L 189.205975 186.672 
L 190.092894 188.635156 
L 190.98914 190.68139 
L 191.945733 192.822267 
L 192.88611 195.209561 
L 193.969471 197.764723 
L 195.456 200.134639 
L 195.456 200.134639 
L 197.353524 202.163137 
L 199.404802 204.297462 
L 201.7673 206.148548 
L 204.474339 207.22669 
L 207.343847 207.631182 
L 210.24 207.792 
L 213.197933 208.337327 
L 216.352224 209.192146 
L 219.805952 210.228619 
L 219.805952 210.228619 
L 223.204222 210.146906 
L 226.899956 210.255391 
L 231.492 211.337544 
L 234.163138 211.874798 
L 236.815833 212.482223 
L 240.968011 211.148217 
L 244.73776 209.02576 
L 249.627498 207.578035 
L 250.125168 207.491842 
L 255.487862 206.210894 
L 258.252448 202.248 
L 258.358898 196.966211 
L 258.187965 193.981384 
L 257.789124 191.834466 
L 257.364816 187.155057 
L 257.420616 182.847215 
L 257.47874 178.660854 
L 257.435077 174.528 
L 257.250649 170.415101 
L 256.800824 166.31807 
L 256.001702 162.266189 
L 254.83617 158.296322 
L 253.338232 154.430964 
L 251.559804 150.672 
L 249.560013 146.995831 
L 247.208308 143.507906 
L 243.924681 140.843319 
L 239.554511 139.592327 
L 236.602812 138.861461 
L 235.350925 138.665882 
L 231.184 138.251928 
L 227.219198 138.115992 
L 223.452226 138.227708 
L 219.805952 138.827381 
L 219.805952 138.827381 
L 216.22247 140.599729 
L 213.082555 142.037444 
L 210.24 143.112 
L 210.24 144.96 
L 210.24 152.352 
L 210.24 159.744 
L 210.24 167.136 
L 210.24 174.528 
z
M 218.635898 162.35937 
L 218.864 159.590794 
L 219.454322 154.767823 
L 219.512732 154.383735 
L 222.581719 147.658899 
L 222.791973 147.610208 
L 226.256 146.787474 
L 230.123391 146.131574 
L 233.753675 146.012238 
L 234.112414 146.077965 
L 237.6814 147.0866 
L 241.24258 148.513746 
L 244.996824 150.19101 
L 248.649959 152.352 
L 248.649959 152.352 
L 250.569721 155.721942 
L 251.941165 159.350017 
L 252.017344 159.636611 
L 252.188227 163.288007 
L 251.841609 167.192514 
L 251.186953 170.945606 
L 250.485333 174.528 
L 249.975912 178.004442 
L 249.552618 181.459875 
L 249.000672 184.913891 
L 248.055232 188.291619 
L 246.548265 191.458822 
L 244.382186 194.24 
L 241.547022 196.449413 
L 239.105859 197.610543 
L 237.335246 197.263611 
L 231.147733 195.435733 
L 227.155025 188.868743 
L 227.136361 188.70573 
L 226.89443 186.189557 
L 226.884315 184.1376 
L 227.078897 182.380107 
L 227.303187 180.738492 
L 227.376297 179.119657 
L 227.111361 177.502876 
L 226.330044 175.935696 
L 225.024 174.528 
L 225.024 174.528 
L 223.056129 173.406734 
L 221.342522 172.570326 
L 220.236173 171.849533 
L 219.748008 171.067368 
L 219.516467 170.202312 
L 219.202324 169.3536 
L 218.591141 168.680468 
L 217.826234 168.162394 
L 217.209244 167.558756 
L 217.227305 166.200854 
L 218.468536 162.776432 
z
M 246.4608 237.264266 
L 240.982843 240.456239 
L 235.342657 243.496983 
L 229.371904 245.929237 
L 229.371904 245.929237 
L 223.136321 247.666669 
L 216.729312 248.701175 
L 210.24 249.504 
L 203.551613 250.976613 
L 196.52024 252.336628 
L 189.331562 252.559352 
L 185.78901 252.076633 
L 182.218974 251.515137 
L 175.563664 248.891641 
L 172.694297 246.652625 
L 169.815 244.546154 
L 165.250661 238.779434 
L 161.913912 232.120789 
L 160.56686 229.270539 
L 159.176882 225.591118 
L 155.24915 220.670802 
L 150.37784 216.443936 
L 147.726416 213.976932 
L 145.641433 211.824 
L 142.285864 206.215534 
L 137.937057 200.844119 
L 131.698639 195.573094 
L 125.812599 201.738543 
L 123.472134 206.108921 
L 121.382678 211.117857 
L 121.310122 215.996683 
L 123.629309 224.532706 
L 128.206756 231.968296 
L 133.952789 238.54057 
L 140.279508 244.488492 
L 146.441356 250.560264 
L 151.333913 258.65461 
L 151.626712 259.817206 
L 155.416 269.485953 
L 156.001385 271.236567 
L 151.104 276.954557 
L 151.104 276.954557 
L 141.40626 272.832768 
L 130.923683 271.997805 
L 129.094622 271.233296 
L 119.204245 265.563755 
L 109.331108 259.200614 
L 105.07895 256.045192 
L 108.313191 260.054748 
L 112.949436 265.293882 
L 117.026356 267.741644 
L 126.989885 273.741624 
L 137.753518 278.049424 
L 139.816439 278.604717 
L 148.929882 280.720239 
L 159.404095 283.545951 
L 167.373728 284.758435 
L 170.504162 278.043398 
L 166.504081 268.31998 
L 169.628076 261.620553 
L 176.294449 256.47981 
L 180.11213 257.303644 
L 187.870389 258.012523 
L 195.546835 257.857078 
L 203.056121 256.640108 
L 206.602171 255.758583 
L 210.24 254.784 
L 217.147376 253.479668 
L 223.921977 252.12235 
L 230.567648 250.391814 
L 237.160586 248.491702 
L 243.841111 246.585816 
L 250.896 244.946258 
L 250.896 244.946258 
L 258.058631 242.820082 
L 266.543342 241.62771 
L 268.379844 241.521717 
L 277.20928 243.445028 
L 283.417067 247.705067 
L 280.281919 258.000709 
L 279.092168 261.440331 
L 275.264781 267.393011 
L 268.76 275.887613 
L 266.053011 278.802512 
L 260.752662 282.852753 
L 251.564051 288.064896 
L 241.682868 291.874381 
L 231.38078 294.423322 
L 220.911819 296.507452 
L 210.24 298.96 
L 205.45009 300.100679 
L 198.830545 307.093921 
L 206.432692 307.529517 
L 210.24 304.740923 
L 221.256565 300.447919 
L 227.828534 298.955024 
L 231.973597 297.785353 
L 242.51469 294.978783 
L 252.700751 291.187955 
L 262.29479 286.159858 
L 271.018667 279.799739 
L 278.646077 272.222002 
L 281.484657 268.933852 
L 284.935257 263.546341 
L 290.21208 254.50008 
L 293.849529 247.355337 
L 294.375526 245.126089 
L 296.380874 234.84449 
L 297.327135 230.435039 
L 290.48496 227.397533 
L 287.69874 228.765193 
L 279.544792 229.892659 
L 277.622516 231.068645 
L 268.607422 232.895422 
L 266.571182 233.166206 
L 259.739393 233.51908 
L 252.812356 235.327625 
L 251.427259 235.910213 
z
M 159.588947 238.137058 
L 159.510425 246.977342 
L 160.159843 247.742599 
L 159.250298 247.348841 
L 152.059325 243.865028 
L 145.193719 239.574281 
L 138.302415 234.890801 
L 131.56512 229.70684 
L 131.51631 229.650921 
L 131.430847 229.514895 
L 128.618838 221.652 
L 130.840422 214.076788 
L 139.821742 215.184 
L 139.821742 215.184 
L 145.016153 220.198229 
L 150.402709 224.737449 
L 154.921622 229.846378 
L 158.528972 236.154803 
z
M 170.167579 105.120531 
L 176.816419 102.850899 
L 183.238106 100.340906 
L 189.636411 97.63436 
L 196.228288 95.06363 
L 200.258518 93.830966 
L 203.108817 93.018202 
L 210.24 91.872 
L 210.24 85.824 
L 210.24 84.3456 
L 202.474886 85.772346 
L 200.899143 86.317184 
L 194.94704 87.797314 
L 187.706869 90.43321 
L 180.81961 93.696143 
L 174.055068 96.929163 
L 166.9968 99.628581 
L 159.772928 102.453552 
L 155.768672 104.5189 
L 152.928722 106.227079 
L 146.5944 110.8824 
L 140.684008 116.163593 
L 134.944694 121.805659 
L 129.685781 128.02 
L 125.780926 135.144087 
L 122.421737 142.564766 
L 118.846417 150.039163 
L 116.44453 153.627019 
L 113.000696 157.382087 
L 107.446652 162.557464 
L 104.729666 165.297042 
L 99.384488 172.197794 
L 97.974 174.528 
L 94.223175 184.678157 
L 92.975479 189.932485 
L 90.762274 195.595147 
L 87.97607 203.561984 
L 79.599177 199.764375 
L 81.717773 208.965427 
L 85.208259 220.035832 
L 89.650311 230.759895 
L 89.725139 230.920087 
L 89.73246 230.721589 
L 92.537809 218.546577 
L 92.684867 217.314569 
L 93.855984 205.713003 
L 95.127877 201.684307 
L 96.301176 194.618489 
L 98.46678 184.30689 
L 99.562774 181.230694 
L 103.056 174.528 
L 106.877914 169.424536 
L 110.035452 165.761238 
L 115.123137 160.845032 
L 117.238966 158.129409 
L 121.702466 150.804439 
L 125.526302 143.694736 
L 129.844221 137.038832 
L 129.853981 137.024832 
L 134.487026 130.792 
L 139.113083 124.724396 
L 143.925386 118.883432 
L 149.346227 113.634227 
L 155.679126 109.504882 
L 162.909762 106.933416 
L 166.094863 106.242949 
z
M 217.47726 91.805737 
L 224.690221 92.576726 
L 231.83172 93.946604 
L 238.881623 95.835788 
L 245.782321 98.307246 
L 252.502957 101.326412 
L 259.064248 104.799748 
L 265.44753 108.734227 
L 271.511274 113.256726 
L 276.902583 118.591451 
L 281.395448 124.704419 
L 284.926031 131.408 
L 287.503193 138.499581 
L 289.387946 145.720504 
L 291.161402 152.845176 
L 293.447501 159.856273 
L 295.924733 167.031557 
L 297.806769 174.528 
L 298.501821 182.249909 
L 298.486577 183.524739 
L 298.462616 190.084028 
L 297.96152 198.03291 
L 297.58437 206.318751 
L 297.698755 214.345175 
L 304.054187 218.216265 
L 311.843389 218.925363 
L 318.080192 213.77862 
L 324.481979 205.139046 
L 324.481979 205.139046 
L 327.721242 195.243113 
L 329.634804 184.973692 
L 330.36 174.528 
L 329.949508 164.054775 
L 328.30469 153.71001 
L 325.321994 143.691873 
L 322.584936 137.556643 
L 320.69601 134.3253 
L 315.451671 125.466992 
L 310.666038 116.547 
L 306.327272 107.246968 
L 304.857149 103.564198 
L 301.925232 97.594956 
L 296.4844 88.2836 
L 289.968387 79.511408 
L 284.564563 73.200313 
L 282.621551 71.156432 
L 274.357565 63.473119 
L 265.318176 56.41247 
L 255.629143 49.822355 
L 254.359647 48.999693 
L 244.677427 46.005773 
L 240.285368 44.908653 
L 244.358562 47.195794 
L 254.463335 53.025385 
L 263.97484 59.293263 
L 270.201836 64.092412 
L 272.637176 66.45292 
L 280.47393 74.223552 
L 287.649193 82.275316 
L 293.870933 90.897067 
L 293.870933 90.897067 
L 298.255216 100.674465 
L 302.514536 109.916674 
L 306.665001 118.857 
L 310.49416 127.162635 
L 310.680967 127.691608 
L 311.783646 129.994166 
L 314.538326 136.566514 
L 318.135203 145.617568 
L 321.009266 154.99639 
L 322.589577 164.698686 
L 322.762667 174.528 
L 321.471459 184.259492 
L 320.236503 188.497387 
L 315.362336 193.063904 
L 311.782656 194.49936 
L 310.105508 192.136983 
L 305.924788 183.408464 
L 305.86412 182.894026 
L 304.8576 174.528 
L 303.249086 166.390759 
L 300.811984 158.557716 
L 297.96152 151.02309 
L 295.505127 143.494032 
L 292.949162 135.960084 
L 289.727276 128.636 
L 285.69837 121.691481 
L 280.763523 115.351738 
L 274.829962 109.938038 
L 268.005427 105.685845 
L 262.930058 103.168646 
L 260.947596 102.110047 
L 254.109913 98.543082 
L 247.276953 95.101997 
L 240.338686 91.83254 
L 233.198285 88.846516 
L 233.198285 88.846516 
L 225.803201 86.264703 
L 218.103154 84.651744 
L 210.24 84.3456 
L 210.24 85.824 
L 210.24 91.872 
z
M 152.336 74.23533 
L 162.172156 71.446176 
L 171.678613 68.58146 
L 180.904414 65.046103 
L 185.392045 58.89563 
L 177.715764 53.145897 
L 177.715764 53.145897 
L 166.925076 48.719747 
L 164.732168 49.496259 
L 155.61144 53.203561 
L 155.342726 56.800415 
L 147.408 65.699784 
L 147.408 65.699784 
L 147.408 65.699784 
L 138.142453 71.562032 
L 128.744052 77.404911 
L 119.29136 83.57936 
L 110.006411 90.422032 
L 101.486523 98.377995 
L 99.843632 100.254579 
L 95.010124 108 
L 89.650311 118.296105 
L 85.208259 129.020168 
L 81.717773 140.090573 
L 81.717773 140.090573 
L 81.717773 140.090573 
L 85.374504 129.080676 
L 89.988151 118.453642 
L 95.875213 108.499459 
L 103.251352 99.613742 
L 111.897843 92.009132 
L 121.382133 85.670133 
L 121.382133 85.670133 
L 131.72386 80.956108 
L 141.896235 76.922989 
L 145.042991 75.848641 
z
" clip-path="url(#pded382b021)" style="fill: #1e9c89; stroke: #1e9c89; stroke-width: 0.5"/>
    <path d="M 218.468536 162.776432 
L 217.227305 166.200854 
L 217.209244 167.558756 
L 217.826234 168.162394 
L 218.591141 168.680468 
L 219.202324 169.3536 
L 219.516467 170.202312 
L 219.748008 171.067368 
L 220.236173 171.849533 
L 221.342522 172.570326 
L 223.056129 173.406734 
L 225.024 174.528 
L 225.024 174.528 
L 226.330044 175.935696 
L 227.111361 177.502876 
L 227.376297 179.119657 
L 227.303187 180.738492 
L 227.078897 182.380107 
L 226.884315 184.1376 
L 226.89443 186.189557 
L 227.136361 188.70573 
L 227.155025 188.868743 
L 231.147733 195.435733 
L 237.335246 197.263611 
L 239.105859 197.610543 
L 241.547022 196.449413 
L 244.382186 194.24 
L 246.548265 191.458822 
L 248.055232 188.291619 
L 249.000672 184.913891 
L 249.552618 181.459875 
L 249.975912 178.004442 
L 250.485333 174.528 
L 251.186953 170.945606 
L 251.841609 167.192514 
L 252.188227 163.288007 
L 252.017344 159.636611 
L 251.941165 159.350017 
L 250.569721 155.721942 
L 248.649959 152.352 
L 248.649959 152.352 
L 244.996824 150.19101 
L 241.24258 148.513746 
L 237.6814 147.0866 
L 234.112414 146.077965 
L 233.753675 146.012238 
L 230.123391 146.131574 
L 226.256 146.787474 
L 222.791973 147.610208 
L 222.581719 147.658899 
L 219.512732 154.383735 
L 219.454322 154.767823 
L 218.864 159.590794 
L 218.635898 162.35937 
z
M 231.990509 154.498473 
L 233.695805 154.846242 
L 236.436509 156.185007 
L 238.691821 158.101333 
L 240.571505 160.384187 
L 241.956521 162.98413 
L 242.370557 165.918643 
L 240.923508 169.11767 
L 239.538442 170.544545 
L 236.594317 169.881023 
L 233.445402 168.310131 
L 233.240691 166.156433 
L 233.310751 163.769932 
L 233.001457 161.386667 
L 232.377545 159.027124 
L 231.883898 156.366613 
z
M 243.841111 246.585816 
L 237.160586 248.491702 
L 230.567648 250.391814 
L 223.921977 252.12235 
L 217.147376 253.479668 
L 210.24 254.784 
L 206.602171 255.758583 
L 203.056121 256.640108 
L 195.546835 257.857078 
L 187.870389 258.012523 
L 180.11213 257.303644 
L 176.294449 256.47981 
L 169.628076 261.620553 
L 166.504081 268.31998 
L 170.504162 278.043398 
L 167.373728 284.758435 
L 159.404095 283.545951 
L 148.929882 280.720239 
L 139.816439 278.604717 
L 137.753518 278.049424 
L 126.989885 273.741624 
L 117.026356 267.741644 
L 112.949436 265.293882 
L 116.1552 268.6128 
L 123.652261 275.555039 
L 124.885148 276.249952 
L 135.150271 281.767247 
L 146.555077 284.833522 
L 156.784988 289.162643 
L 166.628327 294.350085 
L 176.622512 299.990174 
L 186.603433 305.467726 
L 187.135068 305.56258 
L 198.643405 307.077682 
L 198.830545 307.093921 
L 205.45009 300.100679 
L 210.24 298.96 
L 220.911819 296.507452 
L 231.38078 294.423322 
L 241.682868 291.874381 
L 251.564051 288.064896 
L 260.752662 282.852753 
L 266.053011 278.802512 
L 268.76 275.887613 
L 275.264781 267.393011 
L 279.092168 261.440331 
L 280.281919 258.000709 
L 283.417067 247.705067 
L 277.20928 243.445028 
L 268.379844 241.521717 
L 266.543342 241.62771 
L 258.058631 242.820082 
L 250.896 244.946258 
L 250.896 244.946258 
z
M 258.999046 248.628979 
L 263.442189 250.5086 
L 267.058281 252.027188 
L 270.958635 258.331422 
L 270.222216 260.191482 
L 265.68 270.552897 
L 265.68 270.552897 
L 258.542272 278.112556 
L 250.231231 284.403004 
L 240.851046 288.769979 
L 240.851046 288.769979 
L 230.787963 291.061292 
L 221.812244 292.232499 
L 220.547079 292.338449 
L 210.24 292.8 
L 199.969825 291.916633 
L 190.006394 289.278483 
L 183.149192 282.047591 
L 182.179874 279.249814 
L 181.52198 273.951546 
L 184.730795 269.729649 
L 186.878949 267.74121 
L 194.346863 264.662459 
L 200.905849 262.739526 
L 202.545175 262.480258 
L 210.24 260.768 
L 217.619818 258.879701 
L 224.78513 257.01753 
L 231.83172 255.109396 
L 238.907389 253.291005 
L 246.091808 251.412451 
L 253.536 249.518872 
z
M 158.528972 236.154803 
L 154.921622 229.846378 
L 150.402709 224.737449 
L 145.016153 220.198229 
L 139.821742 215.184 
L 139.821742 215.184 
L 130.840422 214.076788 
L 128.618838 221.652 
L 131.430847 229.514895 
L 131.51631 229.650921 
L 131.56512 229.70684 
L 138.302415 234.890801 
L 145.193719 239.574281 
L 152.059325 243.865028 
L 159.250298 247.348841 
L 160.159843 247.742599 
L 159.510425 246.977342 
L 159.588947 238.137058 
z
M 240.338686 91.83254 
L 247.276953 95.101997 
L 254.109913 98.543082 
L 260.947596 102.110047 
L 262.930058 103.168646 
L 268.005427 105.685845 
L 274.829962 109.938038 
L 280.763523 115.351738 
L 285.69837 121.691481 
L 289.727276 128.636 
L 292.949162 135.960084 
L 295.505127 143.494032 
L 297.96152 151.02309 
L 300.811984 158.557716 
L 303.249086 166.390759 
L 304.8576 174.528 
L 305.86412 182.894026 
L 305.924788 183.408464 
L 310.105508 192.136983 
L 311.782656 194.49936 
L 315.362336 193.063904 
L 320.236503 188.497387 
L 321.471459 184.259492 
L 322.762667 174.528 
L 322.589577 164.698686 
L 321.009266 154.99639 
L 318.135203 145.617568 
L 314.538326 136.566514 
L 311.783646 129.994166 
L 310.680967 127.691608 
L 310.49416 127.162635 
L 306.665001 118.857 
L 302.514536 109.916674 
L 298.255216 100.674465 
L 293.870933 90.897067 
L 293.870933 90.897067 
L 287.649193 82.275316 
L 280.47393 74.223552 
L 272.637176 66.45292 
L 270.201836 64.092412 
L 263.97484 59.293263 
L 254.463335 53.025385 
L 244.358562 47.195794 
L 240.285368 44.908653 
L 233.344932 43.49342 
L 223.749392 42.159592 
L 232.786178 46.662273 
L 243.295678 51.162529 
L 253.297528 56.228415 
L 254.36509 56.865698 
L 262.077795 63.361491 
L 270.463059 70.218602 
L 278.299109 77.329519 
L 279.771719 78.853521 
L 284.330856 86.229956 
L 289.515155 95.252845 
L 291.790425 99.402089 
L 293.303843 104.82916 
L 296.597916 114.059536 
L 299.863237 122.784 
L 292.400598 116.99853 
L 285.86046 111.0749 
L 278.8435 105.9245 
L 276.186228 104.631389 
L 271.34153 101.710032 
L 263.810086 98.021988 
L 256.44 94.507253 
L 249.393119 90.563866 
L 242.381526 86.219882 
L 235.111475 81.706392 
L 235.111475 81.706392 
L 227.386871 77.283262 
L 219.942713 71.495852 
L 219.35227 70.374274 
L 215.496227 63.772655 
L 210.24 56.256 
L 210.24 56.256 
L 210.24 56.256 
L 210.24 63.648 
L 210.24 71.04 
L 210.24 78.432 
L 210.24 84.3456 
L 218.103154 84.651744 
L 225.803201 86.264703 
L 233.198285 88.846516 
L 233.198285 88.846516 
z
M 159.772928 102.453552 
L 166.9968 99.628581 
L 174.055068 96.929163 
L 180.81961 93.696143 
L 187.706869 90.43321 
L 194.94704 87.797314 
L 200.899143 86.317184 
L 202.474886 85.772346 
L 210.24 84.3456 
L 210.24 78.432 
L 210.24 71.04 
L 210.24 63.648 
L 210.24 56.256 
L 210.24 56.256 
L 199.32401 49.339015 
L 199.286145 49.324866 
L 187.616554 46.224061 
L 181.481314 44.617118 
L 175.802573 46.005773 
L 166.925076 48.719747 
L 177.715764 53.145897 
L 177.715764 53.145897 
L 185.392045 58.89563 
L 180.904414 65.046103 
L 171.678613 68.58146 
L 162.172156 71.446176 
L 152.336 74.23533 
L 145.042991 75.848641 
L 141.896235 76.922989 
L 131.72386 80.956108 
L 121.382133 85.670133 
L 121.382133 85.670133 
L 111.897843 92.009132 
L 103.251352 99.613742 
L 95.875213 108.499459 
L 89.988151 118.453642 
L 85.374504 129.080676 
L 81.717773 140.090573 
L 81.717773 140.090573 
L 79.20542 151.423068 
L 77.690318 162.931405 
L 77.184 174.528 
L 77.690318 186.124595 
L 79.20542 197.632932 
L 79.599177 199.764375 
L 87.97607 203.561984 
L 90.762274 195.595147 
L 92.975479 189.932485 
L 94.223175 184.678157 
L 97.974 174.528 
L 99.384488 172.197794 
L 104.729666 165.297042 
L 107.446652 162.557464 
L 113.000696 157.382087 
L 116.44453 153.627019 
L 118.846417 150.039163 
L 122.421737 142.564766 
L 125.780926 135.144087 
L 129.685781 128.02 
L 134.944694 121.805659 
L 140.684008 116.163593 
L 146.5944 110.8824 
L 152.928722 106.227079 
L 155.768672 104.5189 
z
M 135.557643 114.054975 
L 130.104065 118.416214 
L 124.884536 125.248 
L 121.636609 133.21156 
L 119.03585 141.332404 
L 115.038351 149.018795 
L 108.408293 156.087026 
L 107.995129 156.499471 
L 99.819875 164.439865 
L 99.46196 164.836177 
L 93.354 174.528 
L 92.02098 178.06767 
L 89.096904 185.126648 
L 85.867494 192.497993 
L 81.275804 185.810905 
L 78.944 174.528 
L 79.307511 163.072892 
L 81.136023 151.763485 
L 83.881447 140.670328 
L 87.32625 129.791054 
L 91.787549 119.292715 
L 97.605391 109.498378 
L 105.016182 100.849489 
L 113.789274 93.596232 
L 114.611453 93.001182 
L 124.866756 89.154756 
L 131.705825 86.093565 
L 135.590438 85.564117 
L 146.405721 83.363202 
L 147.541956 83.076758 
L 156.912 82.161195 
L 165.058599 81.423719 
L 165.934391 89.255178 
L 162.654 92.10663 
L 156.261519 97.438739 
L 149.876868 102.590021 
L 143.519733 107.807733 
L 136.918208 113.003711 
z
" clip-path="url(#pded382b021)" style="fill: #2fb47c; stroke: #2fb47c; stroke-width: 0.5"/>
    <path d="M 231.883898 156.366613 
L 232.377545 159.027124 
L 233.001457 161.386667 
L 233.310751 163.769932 
L 233.240691 166.156433 
L 233.445402 168.310131 
L 236.594317 169.881023 
L 239.538442 170.544545 
L 240.923508 169.11767 
L 242.370557 165.918643 
L 241.956521 162.98413 
L 240.571505 160.384187 
L 238.691821 158.101333 
L 236.436509 156.185007 
L 233.695805 154.846242 
L 231.990509 154.498473 
z
M 253.536 249.518872 
L 246.091808 251.412451 
L 238.907389 253.291005 
L 231.83172 255.109396 
L 224.78513 257.01753 
L 217.619818 258.879701 
L 210.24 260.768 
L 202.545175 262.480258 
L 200.905849 262.739526 
L 194.346863 264.662459 
L 186.878949 267.74121 
L 184.730795 269.729649 
L 181.52198 273.951546 
L 182.179874 279.249814 
L 183.149192 282.047591 
L 190.006394 289.278483 
L 199.969825 291.916633 
L 210.24 292.8 
L 220.547079 292.338449 
L 221.812244 292.232499 
L 230.787963 291.061292 
L 240.851046 288.769979 
L 240.851046 288.769979 
L 250.231231 284.403004 
L 258.542272 278.112556 
L 265.68 270.552897 
L 265.68 270.552897 
L 270.222216 260.191482 
L 270.958635 258.331422 
L 267.058281 252.027188 
L 263.442189 250.5086 
L 258.999046 248.628979 
z
M 255.658622 259.213241 
L 258.14906 266.258519 
L 255.295478 271.149785 
L 248.994192 278.414895 
L 248.250284 278.960397 
L 239.484482 283.669891 
L 229.974313 286.446852 
L 220.132423 287.598914 
L 210.24 287.113846 
L 202.744947 285.154392 
L 200.706178 283.500087 
L 194.850399 276.865316 
L 201.782029 271.203052 
L 202.804005 270.335866 
L 210.24 267.6672 
L 218.158917 265.041641 
L 225.768468 262.594317 
L 233.198285 260.209484 
L 240.650368 258.079798 
L 248.884988 257.402444 
z
M 242.381526 86.219882 
L 249.393119 90.563866 
L 256.44 94.507253 
L 263.810086 98.021988 
L 271.34153 101.710032 
L 276.186228 104.631389 
L 278.8435 105.9245 
L 285.86046 111.0749 
L 292.400598 116.99853 
L 299.863237 122.784 
L 296.597916 114.059536 
L 293.303843 104.82916 
L 291.790425 99.402089 
L 289.515155 95.252845 
L 284.330856 86.229956 
L 279.771719 78.853521 
L 278.299109 77.329519 
L 270.463059 70.218602 
L 262.077795 63.361491 
L 254.36509 56.865698 
L 253.297528 56.228415 
L 243.295678 51.162529 
L 232.786178 46.662273 
L 223.749392 42.159592 
L 221.836595 41.978318 
L 210.24 41.472 
L 210.24 48.864 
L 210.24 56.256 
L 210.24 56.256 
L 215.496227 63.772655 
L 219.35227 70.374274 
L 219.942713 71.495852 
L 227.386871 77.283262 
L 235.111475 81.706392 
L 235.111475 81.706392 
z
M 237.024665 74.566268 
L 237.024665 74.566268 
L 232.704834 65.947589 
L 240.372749 62.071052 
L 250.318823 64.412337 
L 259.126302 69.690986 
L 266.736 76.674058 
L 271.56928 82.153253 
L 272.368148 85.799809 
L 274.748093 93.605369 
L 268.58727 91.199463 
L 260.136 88.105593 
L 252.476244 83.952081 
L 244.892571 79.320844 
z
M 136.918208 113.003711 
L 143.519733 107.807733 
L 149.876868 102.590021 
L 156.261519 97.438739 
L 162.654 92.10663 
L 165.934391 89.255178 
L 165.058599 81.423719 
L 156.912 82.161195 
L 147.541956 83.076758 
L 146.405721 83.363202 
L 135.590438 85.564117 
L 131.705825 86.093565 
L 124.866756 89.154756 
L 114.611453 93.001182 
L 113.789274 93.596232 
L 105.016182 100.849489 
L 97.605391 109.498378 
L 91.787549 119.292715 
L 87.32625 129.791054 
L 83.881447 140.670328 
L 81.136023 151.763485 
L 79.307511 163.072892 
L 78.944 174.528 
L 81.275804 185.810905 
L 85.867494 192.497993 
L 89.096904 185.126648 
L 92.02098 178.06767 
L 93.354 174.528 
L 99.46196 164.836177 
L 99.819875 164.439865 
L 107.995129 156.499471 
L 108.408293 156.087026 
L 115.038351 149.018795 
L 119.03585 141.332404 
L 121.636609 133.21156 
L 124.884536 125.248 
L 130.104065 118.416214 
L 135.557643 114.054975 
z
M 110.278268 147.743335 
L 110.278268 147.743335 
L 102.105693 155.461004 
L 100.808145 156.666208 
L 93.574887 164.321125 
L 92.242455 166.475335 
L 87.987692 174.528 
L 84.788354 181.830425 
L 82.464 174.528 
L 82.100251 163.317225 
L 83.554619 152.189949 
L 86.045121 141.250082 
L 89.277995 130.501431 
L 93.586948 120.131788 
L 99.33557 110.497297 
L 106.781011 102.085236 
L 108.877765 100.250559 
L 118.376373 97.445264 
L 121.939157 95.843649 
L 130.964845 95.252845 
L 133.167429 94.814806 
L 143.383662 94.851719 
L 144.37615 94.704949 
L 143.983602 95.566699 
L 138.369667 102.657667 
L 131.729357 108.649749 
L 125.520781 115.206965 
L 120.616763 122.784 
L 120.616763 122.784 
L 120.616763 122.784 
L 117.34306 131.209445 
L 114.527418 139.691469 
z
M 210.24 56.256 
L 210.24 48.864 
L 210.24 41.472 
L 198.643405 41.978318 
L 187.135068 43.49342 
L 181.481314 44.617118 
L 187.616554 46.224061 
L 199.286145 49.324866 
L 199.32401 49.339015 
z
M 176.622512 299.990174 
L 166.628327 294.350085 
L 156.784988 289.162643 
L 146.555077 284.833522 
L 135.150271 281.767247 
L 124.885148 276.249952 
L 123.652261 275.555039 
L 124.713252 276.454809 
L 133.922214 283.521094 
L 143.712 289.757876 
L 143.712 289.757876 
L 155.049436 292.884547 
L 160.396345 297.895375 
L 164.732168 299.559741 
L 175.802573 303.050227 
L 186.603433 305.467726 
z
" clip-path="url(#pded382b021)" style="fill: #5ec962; stroke: #5ec962; stroke-width: 0.5"/>
    <path d="M 248.884988 257.402444 
L 240.650368 258.079798 
L 233.198285 260.209484 
L 225.768468 262.594317 
L 218.158917 265.041641 
L 210.24 267.6672 
L 202.804005 270.335866 
L 201.782029 271.203052 
L 194.850399 276.865316 
L 200.706178 283.500087 
L 202.744947 285.154392 
L 210.24 287.113846 
L 220.132423 287.598914 
L 229.974313 286.446852 
L 239.484482 283.669891 
L 248.250284 278.960397 
L 248.994192 278.414895 
L 255.295478 271.149785 
L 258.14906 266.258519 
L 255.658622 259.213241 
z
M 242.123734 272.982018 
L 237.502963 276.274763 
L 228.701457 279.228123 
L 219.382973 279.032663 
L 216.133512 277.84805 
L 219.057646 275.314157 
L 226.988095 269.511167 
L 235.111475 267.349608 
z
M 244.892571 79.320844 
L 252.476244 83.952081 
L 260.136 88.105593 
L 268.58727 91.199463 
L 274.748093 93.605369 
L 272.368148 85.799809 
L 271.56928 82.153253 
L 266.736 76.674058 
L 259.126302 69.690986 
L 250.318823 64.412337 
L 240.372749 62.071052 
L 232.704834 65.947589 
L 237.024665 74.566268 
L 237.024665 74.566268 
z
M 114.527418 139.691469 
L 117.34306 131.209445 
L 120.616763 122.784 
L 120.616763 122.784 
L 120.616763 122.784 
L 125.520781 115.206965 
L 131.729357 108.649749 
L 138.369667 102.657667 
L 143.983602 95.566699 
L 144.37615 94.704949 
L 143.383662 94.851719 
L 133.167429 94.814806 
L 130.964845 95.252845 
L 121.939157 95.843649 
L 118.376373 97.445264 
L 108.877765 100.250559 
L 106.781011 102.085236 
L 99.33557 110.497297 
L 93.586948 120.131788 
L 89.277995 130.501431 
L 86.045121 141.250082 
L 83.554619 152.189949 
L 82.100251 163.317225 
L 82.464 174.528 
L 84.788354 181.830425 
L 87.987692 174.528 
L 92.242455 166.475335 
L 93.574887 164.321125 
L 100.808145 156.666208 
L 102.105693 155.461004 
L 110.278268 147.743335 
L 110.278268 147.743335 
z
M 102.870701 146.847536 
L 93.835154 154.002685 
L 93.747195 154.090474 
L 85.547732 163.61884 
L 84.941245 164.953929 
L 84.892991 163.561558 
L 85.973214 152.616413 
L 88.208795 141.829837 
L 91.229741 131.211808 
L 95.386346 120.970862 
L 101.065748 111.496216 
L 102.644033 109.608443 
L 112.856355 107.411001 
L 117.493671 113.762115 
L 115.282047 119.704 
L 112.184188 128.803824 
L 108.991324 137.676496 
L 103.787247 146.004071 
z
M 155.049436 292.884547 
L 143.712 289.757876 
L 154.008105 295.117689 
L 160.396345 297.895375 
z
" clip-path="url(#pded382b021)" style="fill: #9bd93c; stroke: #9bd93c; stroke-width: 0.5"/>
    <path d="M 235.111475 267.349608 
L 226.988095 269.511167 
L 219.057646 275.314157 
L 216.133512 277.84805 
L 219.382973 279.032663 
L 228.701457 279.228123 
L 237.502963 276.274763 
L 242.123734 272.982018 
z
M 103.787247 146.004071 
L 108.991324 137.676496 
L 112.184188 128.803824 
L 115.282047 119.704 
L 117.493671 113.762115 
L 112.856355 107.411001 
L 102.644033 109.608443 
L 101.065748 111.496216 
L 95.386346 120.970862 
L 91.229741 131.211808 
L 88.208795 141.829837 
L 85.973214 152.616413 
L 84.892991 163.561558 
L 84.941245 164.953929 
L 85.547732 163.61884 
L 93.747195 154.090474 
L 93.835154 154.002685 
L 102.870701 146.847536 
z
" clip-path="url(#pded382b021)" style="fill: #dfe318; stroke: #dfe318; stroke-width: 0.5"/>
   </g>
   <g id="matplotlib.axis_1">
    <g id="xtick_1">
     <g id="line2d_1">
      <path d="M 210.600 174.528 
L 210.600 41.472 
" clip-path="url(#pded382b021)" style="fill: none; stroke: #b0b0b0; stroke-width: 0.8; stroke-linecap: square"/>
     </g>
     <g id="text_1">
      <text style="font-size: 10px; font-family: 'DejaVu Sans', 'Liberation Sans', sans-serif; text-anchor: middle" x="210.24" y="30.231375">0°</text>
     </g>
    </g>
    <g id="xtick_2">
     <g id="line2d_2">
      <path d="M 210.24 174.528 
L 304.3248 80.4432 
" clip-path="url(#pded382b021)" style="fill: none; stroke: #b0b0b0; stroke-width: 0.8; stroke-linecap: square"/>
     </g>
     <g id="text_2">
      <text style="font-size: 10px; font-family: 'DejaVu Sans', 'Liberation Sans', sans-serif; text-anchor: middle" x="314.224295" y="73.30308">45°</text>
     </g>
    </g>
    <g id="xtick_3">
     <g id="line2d_3">
      <path d="M 210.24 174.600 
L 343.296 174.600 
" clip-path="url(#pded382b021)" style="fill: none; stroke: #b0b0b0; stroke-width: 0.8; stroke-linecap: square"/>
     </g>
     <g id="text_3">
      <text style="font-size: 10px; font-family: 'DejaVu Sans', 'Liberation Sans', sans-serif; text-anchor: middle" x="357.296" y="177.287375">90°</text>
     </g>
    </g>
    <g id="xtick_4">
     <g id="line2d_4">
      <path d="M 210.24 174.528 
L 304.3248 268.6128 
" clip-path="url(#pded382b021)" style="fill: none; stroke: #b0b0b0; stroke-width: 0.8; stroke-linecap: square"/>
     </g>
     <g id="text_4">
      <text style="font-size: 10px; font-family: 'DejaVu Sans', 'Liberation Sans', sans-serif; text-anchor: middle" x="314.224295" y="281.27167">135°</text>
     </g>
    </g>
    <g id="xtick_5">
     <g id="line2d_5">
      <path d="M 210.600 174.528 
L 210.600 307.584 
" clip-path="url(#pded382b021)" style="fill: none; stroke: #b0b0b0; stroke-width: 0.8; stroke-linecap: square"/>
     </g>
     <g id="text_5">
      <text style="font-size: 10px; font-family: 'DejaVu Sans', 'Liberation Sans', sans-serif; text-anchor: middle" x="210.24" y="325.06">180°</text>
     </g>
    </g>
    <g id="xtick_6">
     <g id="line2d_6">
      <path d="M 210.24 174.528 
L 116.1552 268.6128 
" clip-path="url(#pded382b021)" style="fill: none; stroke: #b0b0b0; stroke-width: 0.8; stroke-linecap: square"/>
     </g>
     <g id="text_6">
      <text style="font-size: 10px; font-family: 'DejaVu Sans', 'Liberation Sans', sans-serif; text-anchor: middle" x="106.255705" y="281.27167">225°</text>
     </g>
    </g>
    <g id="xtick_7">
     <g id="line2d_7">
      <path d="M 210.24 174.600 
L 77.184 174.600 
" clip-path="url(#pded382b021)" style="fill: none; stroke: #b0b0b0; stroke-width: 0.8; stroke-linecap: square"/>
     </g>
     <g id="text_7">
      <text style="font-size: 10px; font-family: 'DejaVu Sans', 'Liberation Sans', sans-serif; text-anchor: middle" x="63.184" y="177.287375">270°</text>
     </g>
    </g>
    <g id="xtick_8">
     <g id="line2d_8">
      <path d="M 210.24 174.528 
L 116.1552 80.4432 
" clip-path="url(#pded382b021)" style="fill: none; stroke: #b0b0b0; stroke-width: 0.8; stroke-linecap: square"/>
     </g>
     <g id="text_8">
      <text style="font-size: 10px; font-family: 'DejaVu Sans', 'Liberation Sans', sans-serif; text-anchor: middle" x="106.255705" y="73.30308">315°</text>
     </g>
    </g>
   </g>
   <g id="matplotlib.axis_2">
    <g id="ytick_1">
     <g id="line2d_9">
      <path d="M 210.24 159.744 
C 212.181417 159.744 214.103956 160.126417 215.897592 160.869365 
C 217.691227 161.612313 219.321077 162.701344 220.693867 164.074133 
C 222.066656 165.446923 223.155687 167.076773 223.898635 168.870408 
C 224.641583 170.664044 225.024 172.586583 225.024 174.528 
C 225.024 176.469417 224.641583 178.391956 223.898635 180.185592 
C 223.155687 181.979227 222.066656 183.609077 220.693867 184.981867 
C 219.321077 186.354656 217.691227 187.443687 215.897592 188.186635 
C 214.103956 188.929583 212.181417 189.312 210.24 189.312 
C 208.298583 189.312 206.376044 188.929583 204.582408 188.186635 
C 202.788773 187.443687 201.158923 186.354656 199.786133 184.981867 
C 198.413344 183.609077 197.324313 181.979227 196.581365 180.185592 
C 195.838417 178.391956 195.456 176.469417 195.456 174.528 
C 195.456 172.586583 195.838417 170.664044 196.581365 168.870408 
C 197.324313 167.076773 198.413344 165.446923 199.786133 164.074133 
C 201.158923 162.701344 202.788773 161.612313 204.582408 160.869365 
C 206.376044 160.126417 208.298583 159.744 210.24 159.744 
" clip-path="url(#pded382b021)" style="fill: none; stroke: #b0b0b0; stroke-width: 0.8; stroke-linecap: square"/>
     </g>
     <g id="text_9">
      <text style="font-size: 10px; font-family: 'DejaVu Sans', 'Liberation Sans', sans-serif; text-anchor: start" x="215.897592" y="158.789677">10</text>
     </g>
    </g>
    <g id="ytick_2">
     <g id="line2d_10">
      <path d="M 210.24 144.96 
C 214.122834 144.96 217.967913 145.724834 221.555184 147.21073 
C 225.142455 148.696626 228.402155 150.874688 231.147733 153.620267 
C 233.893312 156.365845 236.071374 159.625545 237.55727 163.212816 
C 239.043166 166.800087 239.808 170.645166 239.808 174.528 
C 239.808 178.410834 239.043166 182.255913 237.55727 185.843184 
C 236.071374 189.430455 233.893312 192.690155 231.147733 195.435733 
C 228.402155 198.181312 225.142455 200.359374 221.555184 201.84527 
C 217.967913 203.331166 214.122834 204.096 210.24 204.096 
C 206.357166 204.096 202.512087 203.331166 198.924816 201.84527 
C 195.337545 200.359374 192.077845 198.181312 189.332267 195.435733 
C 186.586688 192.690155 184.408626 189.430455 182.92273 185.843184 
C 181.436834 182.255913 180.672 178.410834 180.672 174.528 
C 180.672 170.645166 181.436834 166.800087 182.92273 163.212816 
C 184.408626 159.625545 186.586688 156.365845 189.332267 153.620267 
C 192.077845 150.874688 195.337545 148.696626 198.924816 147.21073 
C 202.512087 145.724834 206.357166 144.96 210.24 144.96 
" clip-path="url(#pded382b021)" style="fill: none; stroke: #b0b0b0; stroke-width: 0.8; stroke-linecap: square"/>
     </g>
     <g id="text_10">
      <text style="font-size: 10px; font-family: 'DejaVu Sans', 'Liberation Sans', sans-serif; text-anchor: start" x="221.555184" y="145.131042">20</text>
     </g>
    </g>
    <g id="ytick_3">
     <g id="line2d_11">
      <path d="M 210.24 130.176 
C 216.064251 130.176 221.831869 131.323251 227.212776 133.552095 
C 232.593682 135.780939 237.483232 139.048032 241.6016 143.1664 
C 245.719968 147.284768 248.987061 152.174318 251.215905 157.555224 
C 253.444749 162.936131 254.592 168.703749 254.592 174.528 
C 254.592 180.352251 253.444749 186.119869 251.215905 191.500776 
C 248.987061 196.881682 245.719968 201.771232 241.6016 205.8896 
C 237.483232 210.007968 232.593682 213.275061 227.212776 215.503905 
C 221.831869 217.732749 216.064251 218.88 210.24 218.88 
C 204.415749 218.88 198.648131 217.732749 193.267224 215.503905 
C 187.886318 213.275061 182.996768 210.007968 178.8784 205.8896 
C 174.760032 201.771232 171.492939 196.881682 169.264095 191.500776 
C 167.035251 186.119869 165.888 180.352251 165.888 174.528 
C 165.888 168.703749 167.035251 162.936131 169.264095 157.555224 
C 171.492939 152.174318 174.760032 147.284768 178.8784 143.1664 
C 182.996768 139.048032 187.886318 135.780939 193.267224 133.552095 
C 198.648131 131.323251 204.415749 130.176 210.24 130.176 
" clip-path="url(#pded382b021)" style="fill: none; stroke: #b0b0b0; stroke-width: 0.8; stroke-linecap: square"/>
     </g>
     <g id="text_11">
      <text style="font-size: 10px; font-family: 'DejaVu Sans', 'Liberation Sans', sans-serif; text-anchor: start" x="227.212776" y="131.472407">30</text>
     </g>
    </g>
    <g id="ytick_4">
     <g id="line2d_12">
      <path d="M 210.24 115.392 
C 218.005668 115.392 225.695825 116.921667 232.870367 119.89346 
C 240.04491 122.865253 246.56431 127.221377 252.055467 132.712533 
C 257.546623 138.20369 261.902747 144.72309 264.87454 151.897633 
C 267.846333 159.072175 269.376 166.762332 269.376 174.528 
C 269.376 182.293668 267.846333 189.983825 264.87454 197.158367 
C 261.902747 204.33291 257.546623 210.85231 252.055467 216.343467 
C 246.56431 221.834623 240.04491 226.190747 232.870367 229.16254 
C 225.695825 232.134333 218.005668 233.664 210.24 233.664 
C 202.474332 233.664 194.784175 232.134333 187.609633 229.16254 
C 180.43509 226.190747 173.91569 221.834623 168.424533 216.343467 
C 162.933377 210.85231 158.577253 204.33291 155.60546 197.158367 
C 152.633667 189.983825 151.104 182.293668 151.104 174.528 
C 151.104 166.762332 152.633667 159.072175 155.60546 151.897633 
C 158.577253 144.72309 162.933377 138.20369 168.424533 132.712533 
C 173.91569 127.221377 180.43509 122.865253 187.609633 119.89346 
C 194.784175 116.921667 202.474332 115.392 210.24 115.392 
" clip-path="url(#pded382b021)" style="fill: none; stroke: #b0b0b0; stroke-width: 0.8; stroke-linecap: square"/>
     </g>
     <g id="text_12">
      <text style="font-size: 10px; font-family: 'DejaVu Sans', 'Liberation Sans', sans-serif; text-anchor: start" x="232.870367" y="117.813772">40</text>
     </g>
    </g>
    <g id="ytick_5">
     <g id="line2d_13">
      <path d="M 210.24 100.608 
C 219.947085 100.608 229.559782 102.520084 238.527959 106.234825 
C 247.496137 109.949566 255.645387 115.394721 262.509333 122.258667 
C 269.373279 129.122613 274.818434 137.271863 278.533175 146.240041 
C 282.247916 155.208218 284.16 164.820915 284.16 174.528 
C 284.16 184.235085 282.247916 193.847782 278.533175 202.815959 
C 274.818434 211.784137 269.373279 219.933387 262.509333 226.797333 
C 255.645387 233.661279 247.496137 239.106434 238.527959 242.821175 
C 229.559782 246.535916 219.947085 248.448 210.24 248.448 
C 200.532915 248.448 190.920218 246.535916 181.952041 242.821175 
C 172.983863 239.106434 164.834613 233.661279 157.970667 226.797333 
C 151.106721 219.933387 145.661566 211.784137 141.946825 202.815959 
C 138.232084 193.847782 136.32 184.235085 136.32 174.528 
C 136.32 164.820915 138.232084 155.208218 141.946825 146.240041 
C 145.661566 137.271863 151.106721 129.122613 157.970667 122.258667 
C 164.834613 115.394721 172.983863 109.949566 181.952041 106.234825 
C 190.920218 102.520084 200.532915 100.608 210.24 100.608 
" clip-path="url(#pded382b021)" style="fill: none; stroke: #b0b0b0; stroke-width: 0.8; stroke-linecap: square"/>
     </g>
     <g id="text_13">
      <text style="font-size: 10px; font-family: 'DejaVu Sans', 'Liberation Sans', sans-serif; text-anchor: start" x="238.527959" y="104.155137">50</text>
     </g>
    </g>
    <g id="ytick_6">
     <g id="line2d_14">
      <path d="M 210.24 85.824 
C 221.888503 85.824 233.423738 88.118501 244.185551 92.57619 
C 254.947364 97.033879 264.726465 103.568065 272.9632 111.8048 
C 281.199935 120.041535 287.734121 129.820636 292.19181 140.582449 
C 296.649499 151.344262 298.944 162.879497 298.944 174.528 
C 298.944 186.176503 296.649499 197.711738 292.19181 208.473551 
C 287.734121 219.235364 281.199935 229.014465 272.9632 237.2512 
C 264.726465 245.487935 254.947364 252.022121 244.185551 256.47981 
C 233.423738 260.937499 221.888503 263.232 210.24 263.232 
C 198.591497 263.232 187.056262 260.937499 176.294449 256.47981 
C 165.532636 252.022121 155.753535 245.487935 147.5168 237.2512 
C 139.280065 229.014465 132.745879 219.235364 128.28819 208.473551 
C 123.830501 197.711738 121.536 186.176503 121.536 174.528 
C 121.536 162.879497 123.830501 151.344262 128.28819 140.582449 
C 132.745879 129.820636 139.280065 120.041535 147.5168 111.8048 
C 155.753535 103.568065 165.532636 97.033879 176.294449 92.57619 
C 187.056262 88.118501 198.591497 85.824 210.24 85.824 
" clip-path="url(#pded382b021)" style="fill: none; stroke: #b0b0b0; stroke-width: 0.8; stroke-linecap: square"/>
     </g>
     <g id="text_14">
      <text style="font-size: 10px; font-family: 'DejaVu Sans', 'Liberation Sans', sans-serif; text-anchor: start" x="244.185551" y="90.496502">60</text>
     </g>
    </g>
    <g id="ytick_7">
     <g id="line2d_15">
      <path d="M 210.24 71.04 
C 223.82992 71.04 237.287694 73.716918 249.843143 78.917555 
C 262.398592 84.118192 273.807542 91.741409 283.417067 101.350933 
C 293.026591 110.960458 300.649808 122.369408 305.850445 134.924857 
C 311.051082 147.480306 313.728 160.93808 313.728 174.528 
C 313.728 188.11792 311.051082 201.575694 305.850445 214.131143 
C 300.649808 226.686592 293.026591 238.095542 283.417067 247.705067 
C 273.807542 257.314591 262.398592 264.937808 249.843143 270.138445 
C 237.287694 275.339082 223.82992 278.016 210.24 278.016 
C 196.65008 278.016 183.192306 275.339082 170.636857 270.138445 
C 158.081408 264.937808 146.672458 257.314591 137.062933 247.705067 
C 127.453409 238.095542 119.830192 226.686592 114.629555 214.131143 
C 109.428918 201.575694 106.752 188.11792 106.752 174.528 
C 106.752 160.93808 109.428918 147.480306 114.629555 134.924857 
C 119.830192 122.369408 127.453409 110.960458 137.062933 101.350933 
C 146.672458 91.741409 158.081408 84.118192 170.636857 78.917555 
C 183.192306 73.716918 196.65008 71.04 210.24 71.04 
" clip-path="url(#pded382b021)" style="fill: none; stroke: #b0b0b0; stroke-width: 0.8; stroke-linecap: square"/>
     </g>
     <g id="text_15">
      <text style="font-size: 10px; font-family: 'DejaVu Sans', 'Liberation Sans', sans-serif; text-anchor: start" x="249.843143" y="76.837867">70</text>
     </g>
    </g>
    <g id="ytick_8">
     <g id="line2d_16">
      <path d="M 210.24 56.256 
C 225.771337 56.256 241.151651 59.315335 255.500735 65.25892 
C 269.849819 71.202505 282.88862 79.914753 293.870933 90.897067 
C 304.853247 101.87938 313.565495 114.918181 319.50908 129.267265 
C 325.452665 143.616349 328.512 158.996663 328.512 174.528 
C 328.512 190.059337 325.452665 205.439651 319.50908 219.788735 
C 313.565495 234.137819 304.853247 247.17662 293.870933 258.158933 
C 282.88862 269.141247 269.849819 277.853495 255.500735 283.79708 
C 241.151651 289.740665 225.771337 292.8 210.24 292.8 
C 194.708663 292.8 179.328349 289.740665 164.979265 283.79708 
C 150.630181 277.853495 137.59138 269.141247 126.609067 258.158933 
C 115.626753 247.17662 106.914505 234.137819 100.97092 219.788735 
C 95.027335 205.439651 91.968 190.059337 91.968 174.528 
C 91.968 158.996663 95.027335 143.616349 100.97092 129.267265 
C 106.914505 114.918181 115.626753 101.87938 126.609067 90.897067 
C 137.59138 79.914753 150.630181 71.202505 164.979265 65.25892 
C 179.328349 59.315335 194.708663 56.256 210.24 56.256 
" clip-path="url(#pded382b021)" style="fill: none; stroke: #b0b0b0; stroke-width: 0.8; stroke-linecap: square"/>
     </g>
     <g id="text_16">
      <text style="font-size: 10px; font-family: 'DejaVu Sans', 'Liberation Sans', sans-serif; text-anchor: start" x="255.500735" y="63.179232">80</text>
     </g>
    </g>
    <g id="ytick_9">
     <g id="line2d_17">
      <path d="M 210.24 41.472 
C 227.712754 41.472 245.015607 44.913752 261.158327 51.600285 
C 277.301046 58.286818 291.969697 68.088097 304.3248 80.4432 
C 316.679903 92.798303 326.481182 107.466954 333.167715 123.609673 
C 339.854248 139.752393 343.296 157.055246 343.296 174.528 
C 343.296 192.000754 339.854248 209.303607 333.167715 225.446327 
C 326.481182 241.589046 316.679903 256.257697 304.3248 268.6128 
C 291.969697 280.967903 277.301046 290.769182 261.158327 297.455715 
C 245.015607 304.142248 227.712754 307.584 210.24 307.584 
C 192.767246 307.584 175.464393 304.142248 159.321673 297.455715 
C 143.178954 290.769182 128.510303 280.967903 116.1552 268.6128 
C 103.800097 256.257697 93.998818 241.589046 87.312285 225.446327 
C 80.625752 209.303607 77.184 192.000754 77.184 174.528 
C 77.184 157.055246 80.625752 139.752393 87.312285 123.609673 
C 93.998818 107.466954 103.800097 92.798303 116.1552 80.4432 
C 128.510303 68.088097 143.178954 58.286818 159.321673 51.600285 
C 175.464393 44.913752 192.767246 41.472 210.24 41.472 
" clip-path="url(#pded382b021)" style="fill: none; stroke: #b0b0b0; stroke-width: 0.8; stroke-linecap: square"/>
     </g>
     <g id="text_17">
      <text style="font-size: 10px; font-family: 'DejaVu Sans', 'Liberation Sans', sans-serif; text-anchor: start" x="261.158327" y="49.520597">90</text>
     </g>
    </g>
   </g>
   <g id="patch_3">
    <path d="M 210.24 41.472 
C 192.767246 41.472 175.464393 44.913752 159.321673 51.600285 
C 143.178954 58.286818 128.510303 68.088097 116.1552 80.4432 
C 103.800097 92.798303 93.998818 107.466954 87.312285 123.609673 
C 80.625752 139.752393 77.184 157.055246 77.184 174.528 
C 77.184 192.000754 80.625752 209.303607 87.312285 225.446327 
C 93.998818 241.589046 103.800097 256.257697 116.1552 268.6128 
C 128.510303 280.967903 143.178954 290.769182 159.321673 297.455715 
C 175.464393 304.142248 192.767246 307.584 210.24 307.584 
C 227.712754 307.584 245.015607 304.142248 261.158327 297.455715 
C 277.301046 290.769182 291.969697 280.967903 304.3248 268.6128 
C 316.679903 256.257697 326.481182 241.589046 333.167715 225.446327 
C 339.854248 209.303607 343.296 192.000754 343.296 174.528 
C 343.296 157.055246 339.854248 139.752393 333.167715 123.609673 
C 326.481182 107.466954 316.679903 92.798303 304.3248 80.4432 
C 291.969697 68.088097 277.301046 58.286818 261.158327 51.600285 
C 245.015607 44.913752 227.712754 41.472 210.24 41.472 
" style="fill: none; stroke: #000000; stroke-width: 0.8; stroke-linejoin: miter; stroke-linecap: square"/>
   </g>
   <g id="text_18">
    <text style="font-size: 12px; font-family: 'DejaVu Sans', 'Liberation Sans', sans-serif; text-anchor: middle" x="210.24" y="16.632938">Antenna Phase Biases: SFEES980PRO     NONE GLONASS-L2</text>
   </g>
  </g>
  <g id="axes_2">
   <g id="patch_4">
    <path d="M 361.152 307.584 
L 374.4576 307.584 
L 374.4576 41.472 
L 361.152 41.472 
z
" style="fill: #ffffff"/>
   </g>
   <g id="QuadMesh_1">
    <rect x="361.440" y="280.368" width="13.680" height="27.792" fill="#471365"/>
    <rect x="361.440" y="253.728" width="13.680" height="27.072" fill="#463480"/>
    <rect x="361.440" y="227.088" width="13.680" height="27.072" fill="#3b528b"/>
    <rect x="361.440" y="200.448" width="13.680" height="27.072" fill="#2f6c8e"/>
    <rect x="361.440" y="173.808" width="13.680" height="27.072" fill="#25848e"/>
    <rect x="361.440" y="147.168" width="13.680" height="27.072" fill="#1e9c89"/>
    <rect x="361.440" y="120.528" width="13.680" height="27.072" fill="#2fb47c"/>
    <rect x="361.440" y="94.608" width="13.680" height="26.352" fill="#5ec962"/>
    <rect x="361.440" y="67.968" width="13.680" height="27.072" fill="#9bd93c"/>
    <rect x="361.440" y="41.760" width="13.680" height="26.640" fill="#dfe318"/>
   </g>
   <g id="matplotlib.axis_3"/>
   <g id="matplotlib.axis_4">
    <g id="ytick_10">
     <g id="line2d_18">
      <defs>
       <path id="m33c4ce201d" d="M 0 0 
L 3.5 0 
" style="stroke: #000000; stroke-width: 0.8"/>
      </defs>
      <g>
       <use href="#m33c4ce201d" x="374.76" y="281.160" style="stroke: #000000; stroke-width: 0.8"/>
      </g>
     </g>
     <g id="text_19">
      <text style="font-size: 10px; font-family: 'DejaVu Sans', 'Liberation Sans', sans-serif; text-anchor: start" x="381.4576" y="284.772019">−4</text>
     </g>
    </g>
    <g id="ytick_11">
     <g id="line2d_19">
      <g>
       <use href="#m33c4ce201d" x="374.76" y="227.880" style="stroke: #000000; stroke-width: 0.8"/>
      </g>
     </g>
     <g id="text_20">
      <text style="font-size: 10px; font-family: 'DejaVu Sans', 'Liberation Sans', sans-serif; text-anchor: start" x="381.4576" y="231.549619">−2</text>
     </g>
    </g>
    <g id="ytick_12">
     <g id="line2d_20">
      <g>
       <use href="#m33c4ce201d" x="374.76" y="174.600" style="stroke: #000000; stroke-width: 0.8"/>
      </g>
     </g>
     <g id="text_21">
      <text style="font-size: 10px; font-family: 'DejaVu Sans', 'Liberation Sans', sans-serif; text-anchor: start" x="381.4576" y="178.327219">0</text>
     </g>
    </g>
    <g id="ytick_13">
     <g id="line2d_21">
      <g>
       <use href="#m33c4ce201d" x="374.76" y="121.320" style="stroke: #000000; stroke-width: 0.8"/>
      </g>
     </g>
     <g id="text_22">
      <text style="font-size: 10px; font-family: 'DejaVu Sans', 'Liberation Sans', sans-serif; text-anchor: start" x="381.4576" y="125.104819">2</text>
     </g>
    </g>
    <g id="ytick_14">
     <g id="line2d_22">
      <g>
       <use href="#m33c4ce201d" x="374.76" y="68.760" style="stroke: #000000; stroke-width: 0.8"/>
      </g>
     </g>
     <g id="text_23">
      <text style="font-size: 10px; font-family: 'DejaVu Sans', 'Liberation Sans', sans-serif; text-anchor: start" x="381.4576" y="71.882419">4</text>
     </g>
    </g>
    <g id="text_24">
     <text style="font-size: 10px; font-family: 'DejaVu Sans', 'Liberation Sans', sans-serif; text-anchor: middle" x="407.798225" y="174.528" transform="rotate(-90 407.798225 174.528)">Bias (mm)</text>
    </g>
   </g>
   <g id="LineCollection_1"/>
   <g id="patch_5">
    <path d="M 361.800 307.800 L 374.760 307.800 L 374.760 42.120 L 361.800 42.120 z" style="fill: none; stroke: #000000; stroke-width: 0.8; stroke-linejoin: miter"/>
   </g>
  </g>
 </g>
 <defs>
  <clipPath id="pded382b021">
   <path d="M 343.296 174.528 
C 343.296 157.055246 339.854248 139.752393 333.167715 123.609673 
C 326.481182 107.466954 316.679903 92.798303 304.3248 80.4432 
C 291.969697 68.088097 277.301046 58.286818 261.158327 51.600285 
C 245.015607 44.913752 227.712754 41.472 210.24 41.472 
C 192.767246 41.472 175.464393 44.913752 159.321673 51.600285 
C 143.178954 58.286818 128.510303 68.088097 116.1552 80.4432 
C 103.800097 92.798303 93.998818 107.466954 87.312285 123.609673 
C 80.625752 139.752393 77.184 157.055246 77.184 174.528 
C 77.184 192.000754 80.625752 209.303607 87.312285 225.446327 
C 93.998818 241.589046 103.800097 256.257697 116.1552 268.6128 
C 128.510303 280.967903 143.178954 290.769182 159.321673 297.455715 
C 175.464393 304.142248 192.767246 307.584 210.24 307.584 
C 227.712754 307.584 245.015607 304.142248 261.158327 297.455715 
C 277.301046 290.769182 291.969697 280.967903 304.3248 268.6128 
C 316.679903 256.257697 326.481182 241.589046 333.167715 225.446327 
C 339.854248 209.303607 343.296 192.000754 343.296 174.528 
M 210.24 174.528 
C 210.24 174.528 210.24 174.528 210.24 174.528 
C 210.24 174.528 210.24 174.528 210.24 174.528 
C 210.24 174.528 210.24 174.528 210.24 174.528 
C 210.24 174.528 210.24 174.528 210.24 174.528 
C 210.24 174.528 210.24 174.528 210.24 174.528 
C 210.24 174.528 210.24 174.528 210.24 174.528 
C 210.24 174.528 210.24 174.528 210.24 174.528 
C 210.24 174.528 210.24 174.528 210.24 174.528 
C 210.24 174.528 210.24 174.528 210.24 174.528 
C 210.24 174.528 210.24 174.528 210.24 174.528 
C 210.24 174.528 210.24 174.528 210.24 174.528 
C 210.24 174.528 210.24 174.528 210.24 174.528 
C 210.24 174.528 210.24 174.528 210.24 174.528 
C 210.24 174.528 210.24 174.528 210.24 174.528 
C 210.24 174.528 210.24 174.528 210.24 174.528 
C 210.24 174.528 210.24 174.528 210.24 174.528 
z
"/>
  </clipPath>
  <clipPath id="p67af23f93f">
   <rect x="361.152" y="41.472" width="13.3056" height="266.112"/>
  </clipPath>
 </defs>
</svg>

</body></html>
